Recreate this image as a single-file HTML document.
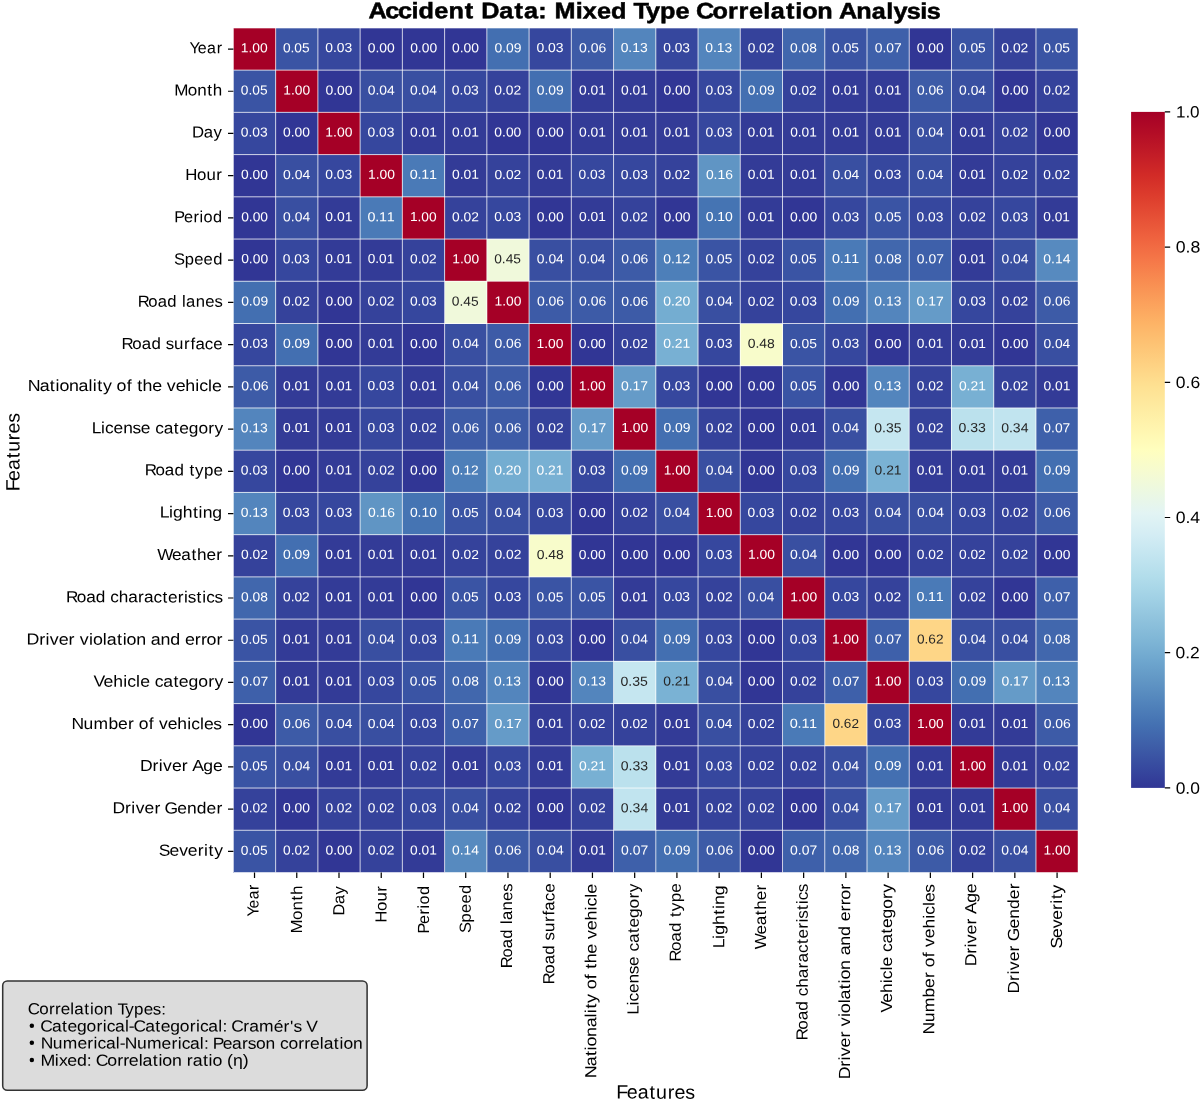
<!DOCTYPE html><html><head><meta charset="utf-8"><title>Accident Data: Mixed Type Correlation Analysis</title>
<style>html,body{margin:0;padding:0;background:#fff;overflow:hidden;}svg{display:block;will-change:transform;}text{font-family:"Liberation Sans",sans-serif;text-rendering:geometricPrecision;}</style></head><body>
<svg width="1200" height="1100" viewBox="0 0 1200 1100">
<rect width="1200" height="1100" fill="#ffffff"/>
<g shape-rendering="crispEdges">
<rect x="233.40" y="27.90" width="42.29" height="42.28" fill="#a50026"/>
<rect x="275.64" y="27.90" width="42.29" height="42.28" fill="#3a54a4"/>
<rect x="317.88" y="27.90" width="42.29" height="42.28" fill="#36479e"/>
<rect x="360.12" y="27.90" width="42.29" height="42.28" fill="#313695"/>
<rect x="402.36" y="27.90" width="42.29" height="42.28" fill="#313695"/>
<rect x="444.60" y="27.90" width="42.29" height="42.28" fill="#313695"/>
<rect x="486.84" y="27.90" width="42.29" height="42.28" fill="#436fb1"/>
<rect x="529.08" y="27.90" width="42.29" height="42.28" fill="#36479e"/>
<rect x="571.32" y="27.90" width="42.29" height="42.28" fill="#3d5ba7"/>
<rect x="613.56" y="27.90" width="42.29" height="42.28" fill="#5385bd"/>
<rect x="655.80" y="27.90" width="42.29" height="42.28" fill="#36479e"/>
<rect x="698.04" y="27.90" width="42.29" height="42.28" fill="#5385bd"/>
<rect x="740.28" y="27.90" width="42.29" height="42.28" fill="#35429b"/>
<rect x="782.52" y="27.90" width="42.29" height="42.28" fill="#4167ad"/>
<rect x="824.76" y="27.90" width="42.29" height="42.28" fill="#3a54a4"/>
<rect x="867.00" y="27.90" width="42.29" height="42.28" fill="#3e60aa"/>
<rect x="909.24" y="27.90" width="42.29" height="42.28" fill="#313695"/>
<rect x="951.48" y="27.90" width="42.29" height="42.28" fill="#3a54a4"/>
<rect x="993.72" y="27.90" width="42.29" height="42.28" fill="#35429b"/>
<rect x="1035.96" y="27.90" width="42.29" height="42.28" fill="#3a54a4"/>
<rect x="233.40" y="70.13" width="42.29" height="42.28" fill="#3a54a4"/>
<rect x="275.64" y="70.13" width="42.29" height="42.28" fill="#a50026"/>
<rect x="317.88" y="70.13" width="42.29" height="42.28" fill="#313695"/>
<rect x="360.12" y="70.13" width="42.29" height="42.28" fill="#394fa1"/>
<rect x="402.36" y="70.13" width="42.29" height="42.28" fill="#394fa1"/>
<rect x="444.60" y="70.13" width="42.29" height="42.28" fill="#36479e"/>
<rect x="486.84" y="70.13" width="42.29" height="42.28" fill="#35429b"/>
<rect x="529.08" y="70.13" width="42.29" height="42.28" fill="#436fb1"/>
<rect x="571.32" y="70.13" width="42.29" height="42.28" fill="#333b97"/>
<rect x="613.56" y="70.13" width="42.29" height="42.28" fill="#333b97"/>
<rect x="655.80" y="70.13" width="42.29" height="42.28" fill="#313695"/>
<rect x="698.04" y="70.13" width="42.29" height="42.28" fill="#36479e"/>
<rect x="740.28" y="70.13" width="42.29" height="42.28" fill="#436fb1"/>
<rect x="782.52" y="70.13" width="42.29" height="42.28" fill="#35429b"/>
<rect x="824.76" y="70.13" width="42.29" height="42.28" fill="#333b97"/>
<rect x="867.00" y="70.13" width="42.29" height="42.28" fill="#333b97"/>
<rect x="909.24" y="70.13" width="42.29" height="42.28" fill="#3d5ba7"/>
<rect x="951.48" y="70.13" width="42.29" height="42.28" fill="#394fa1"/>
<rect x="993.72" y="70.13" width="42.29" height="42.28" fill="#313695"/>
<rect x="1035.96" y="70.13" width="42.29" height="42.28" fill="#35429b"/>
<rect x="233.40" y="112.36" width="42.29" height="42.28" fill="#36479e"/>
<rect x="275.64" y="112.36" width="42.29" height="42.28" fill="#313695"/>
<rect x="317.88" y="112.36" width="42.29" height="42.28" fill="#a50026"/>
<rect x="360.12" y="112.36" width="42.29" height="42.28" fill="#36479e"/>
<rect x="402.36" y="112.36" width="42.29" height="42.28" fill="#333b97"/>
<rect x="444.60" y="112.36" width="42.29" height="42.28" fill="#333b97"/>
<rect x="486.84" y="112.36" width="42.29" height="42.28" fill="#313695"/>
<rect x="529.08" y="112.36" width="42.29" height="42.28" fill="#313695"/>
<rect x="571.32" y="112.36" width="42.29" height="42.28" fill="#333b97"/>
<rect x="613.56" y="112.36" width="42.29" height="42.28" fill="#333b97"/>
<rect x="655.80" y="112.36" width="42.29" height="42.28" fill="#333b97"/>
<rect x="698.04" y="112.36" width="42.29" height="42.28" fill="#36479e"/>
<rect x="740.28" y="112.36" width="42.29" height="42.28" fill="#333b97"/>
<rect x="782.52" y="112.36" width="42.29" height="42.28" fill="#333b97"/>
<rect x="824.76" y="112.36" width="42.29" height="42.28" fill="#333b97"/>
<rect x="867.00" y="112.36" width="42.29" height="42.28" fill="#333b97"/>
<rect x="909.24" y="112.36" width="42.29" height="42.28" fill="#394fa1"/>
<rect x="951.48" y="112.36" width="42.29" height="42.28" fill="#333b97"/>
<rect x="993.72" y="112.36" width="42.29" height="42.28" fill="#35429b"/>
<rect x="1035.96" y="112.36" width="42.29" height="42.28" fill="#313695"/>
<rect x="233.40" y="154.59" width="42.29" height="42.28" fill="#313695"/>
<rect x="275.64" y="154.59" width="42.29" height="42.28" fill="#394fa1"/>
<rect x="317.88" y="154.59" width="42.29" height="42.28" fill="#36479e"/>
<rect x="360.12" y="154.59" width="42.29" height="42.28" fill="#a50026"/>
<rect x="402.36" y="154.59" width="42.29" height="42.28" fill="#4a7ab7"/>
<rect x="444.60" y="154.59" width="42.29" height="42.28" fill="#333b97"/>
<rect x="486.84" y="154.59" width="42.29" height="42.28" fill="#35429b"/>
<rect x="529.08" y="154.59" width="42.29" height="42.28" fill="#333b97"/>
<rect x="571.32" y="154.59" width="42.29" height="42.28" fill="#36479e"/>
<rect x="613.56" y="154.59" width="42.29" height="42.28" fill="#36479e"/>
<rect x="655.80" y="154.59" width="42.29" height="42.28" fill="#35429b"/>
<rect x="698.04" y="154.59" width="42.29" height="42.28" fill="#6095c4"/>
<rect x="740.28" y="154.59" width="42.29" height="42.28" fill="#333b97"/>
<rect x="782.52" y="154.59" width="42.29" height="42.28" fill="#333b97"/>
<rect x="824.76" y="154.59" width="42.29" height="42.28" fill="#394fa1"/>
<rect x="867.00" y="154.59" width="42.29" height="42.28" fill="#36479e"/>
<rect x="909.24" y="154.59" width="42.29" height="42.28" fill="#394fa1"/>
<rect x="951.48" y="154.59" width="42.29" height="42.28" fill="#333b97"/>
<rect x="993.72" y="154.59" width="42.29" height="42.28" fill="#35429b"/>
<rect x="1035.96" y="154.59" width="42.29" height="42.28" fill="#35429b"/>
<rect x="233.40" y="196.82" width="42.29" height="42.28" fill="#313695"/>
<rect x="275.64" y="196.82" width="42.29" height="42.28" fill="#394fa1"/>
<rect x="317.88" y="196.82" width="42.29" height="42.28" fill="#333b97"/>
<rect x="360.12" y="196.82" width="42.29" height="42.28" fill="#4a7ab7"/>
<rect x="402.36" y="196.82" width="42.29" height="42.28" fill="#a50026"/>
<rect x="444.60" y="196.82" width="42.29" height="42.28" fill="#35429b"/>
<rect x="486.84" y="196.82" width="42.29" height="42.28" fill="#36479e"/>
<rect x="529.08" y="196.82" width="42.29" height="42.28" fill="#313695"/>
<rect x="571.32" y="196.82" width="42.29" height="42.28" fill="#333b97"/>
<rect x="613.56" y="196.82" width="42.29" height="42.28" fill="#35429b"/>
<rect x="655.80" y="196.82" width="42.29" height="42.28" fill="#313695"/>
<rect x="698.04" y="196.82" width="42.29" height="42.28" fill="#4574b3"/>
<rect x="740.28" y="196.82" width="42.29" height="42.28" fill="#333b97"/>
<rect x="782.52" y="196.82" width="42.29" height="42.28" fill="#313695"/>
<rect x="824.76" y="196.82" width="42.29" height="42.28" fill="#36479e"/>
<rect x="867.00" y="196.82" width="42.29" height="42.28" fill="#3a54a4"/>
<rect x="909.24" y="196.82" width="42.29" height="42.28" fill="#36479e"/>
<rect x="951.48" y="196.82" width="42.29" height="42.28" fill="#35429b"/>
<rect x="993.72" y="196.82" width="42.29" height="42.28" fill="#36479e"/>
<rect x="1035.96" y="196.82" width="42.29" height="42.28" fill="#333b97"/>
<rect x="233.40" y="239.05" width="42.29" height="42.28" fill="#313695"/>
<rect x="275.64" y="239.05" width="42.29" height="42.28" fill="#36479e"/>
<rect x="317.88" y="239.05" width="42.29" height="42.28" fill="#333b97"/>
<rect x="360.12" y="239.05" width="42.29" height="42.28" fill="#333b97"/>
<rect x="402.36" y="239.05" width="42.29" height="42.28" fill="#35429b"/>
<rect x="444.60" y="239.05" width="42.29" height="42.28" fill="#a50026"/>
<rect x="486.84" y="239.05" width="42.29" height="42.28" fill="#f0f9db"/>
<rect x="529.08" y="239.05" width="42.29" height="42.28" fill="#394fa1"/>
<rect x="571.32" y="239.05" width="42.29" height="42.28" fill="#394fa1"/>
<rect x="613.56" y="239.05" width="42.29" height="42.28" fill="#3d5ba7"/>
<rect x="655.80" y="239.05" width="42.29" height="42.28" fill="#4d7fb9"/>
<rect x="698.04" y="239.05" width="42.29" height="42.28" fill="#3a54a4"/>
<rect x="740.28" y="239.05" width="42.29" height="42.28" fill="#35429b"/>
<rect x="782.52" y="239.05" width="42.29" height="42.28" fill="#3a54a4"/>
<rect x="824.76" y="239.05" width="42.29" height="42.28" fill="#4a7ab7"/>
<rect x="867.00" y="239.05" width="42.29" height="42.28" fill="#4167ad"/>
<rect x="909.24" y="239.05" width="42.29" height="42.28" fill="#3e60aa"/>
<rect x="951.48" y="239.05" width="42.29" height="42.28" fill="#333b97"/>
<rect x="993.72" y="239.05" width="42.29" height="42.28" fill="#394fa1"/>
<rect x="1035.96" y="239.05" width="42.29" height="42.28" fill="#578abf"/>
<rect x="233.40" y="281.28" width="42.29" height="42.28" fill="#436fb1"/>
<rect x="275.64" y="281.28" width="42.29" height="42.28" fill="#35429b"/>
<rect x="317.88" y="281.28" width="42.29" height="42.28" fill="#313695"/>
<rect x="360.12" y="281.28" width="42.29" height="42.28" fill="#35429b"/>
<rect x="402.36" y="281.28" width="42.29" height="42.28" fill="#36479e"/>
<rect x="444.60" y="281.28" width="42.29" height="42.28" fill="#f0f9db"/>
<rect x="486.84" y="281.28" width="42.29" height="42.28" fill="#a50026"/>
<rect x="529.08" y="281.28" width="42.29" height="42.28" fill="#3d5ba7"/>
<rect x="571.32" y="281.28" width="42.29" height="42.28" fill="#3d5ba7"/>
<rect x="613.56" y="281.28" width="42.29" height="42.28" fill="#3d5ba7"/>
<rect x="655.80" y="281.28" width="42.29" height="42.28" fill="#74add1"/>
<rect x="698.04" y="281.28" width="42.29" height="42.28" fill="#394fa1"/>
<rect x="740.28" y="281.28" width="42.29" height="42.28" fill="#35429b"/>
<rect x="782.52" y="281.28" width="42.29" height="42.28" fill="#36479e"/>
<rect x="824.76" y="281.28" width="42.29" height="42.28" fill="#436fb1"/>
<rect x="867.00" y="281.28" width="42.29" height="42.28" fill="#5385bd"/>
<rect x="909.24" y="281.28" width="42.29" height="42.28" fill="#659bc8"/>
<rect x="951.48" y="281.28" width="42.29" height="42.28" fill="#36479e"/>
<rect x="993.72" y="281.28" width="42.29" height="42.28" fill="#35429b"/>
<rect x="1035.96" y="281.28" width="42.29" height="42.28" fill="#3d5ba7"/>
<rect x="233.40" y="323.51" width="42.29" height="42.28" fill="#36479e"/>
<rect x="275.64" y="323.51" width="42.29" height="42.28" fill="#436fb1"/>
<rect x="317.88" y="323.51" width="42.29" height="42.28" fill="#313695"/>
<rect x="360.12" y="323.51" width="42.29" height="42.28" fill="#333b97"/>
<rect x="402.36" y="323.51" width="42.29" height="42.28" fill="#313695"/>
<rect x="444.60" y="323.51" width="42.29" height="42.28" fill="#394fa1"/>
<rect x="486.84" y="323.51" width="42.29" height="42.28" fill="#3d5ba7"/>
<rect x="529.08" y="323.51" width="42.29" height="42.28" fill="#a50026"/>
<rect x="571.32" y="323.51" width="42.29" height="42.28" fill="#313695"/>
<rect x="613.56" y="323.51" width="42.29" height="42.28" fill="#35429b"/>
<rect x="655.80" y="323.51" width="42.29" height="42.28" fill="#78b0d3"/>
<rect x="698.04" y="323.51" width="42.29" height="42.28" fill="#36479e"/>
<rect x="740.28" y="323.51" width="42.29" height="42.28" fill="#f8fccb"/>
<rect x="782.52" y="323.51" width="42.29" height="42.28" fill="#3a54a4"/>
<rect x="824.76" y="323.51" width="42.29" height="42.28" fill="#36479e"/>
<rect x="867.00" y="323.51" width="42.29" height="42.28" fill="#313695"/>
<rect x="909.24" y="323.51" width="42.29" height="42.28" fill="#333b97"/>
<rect x="951.48" y="323.51" width="42.29" height="42.28" fill="#333b97"/>
<rect x="993.72" y="323.51" width="42.29" height="42.28" fill="#313695"/>
<rect x="1035.96" y="323.51" width="42.29" height="42.28" fill="#394fa1"/>
<rect x="233.40" y="365.74" width="42.29" height="42.28" fill="#3d5ba7"/>
<rect x="275.64" y="365.74" width="42.29" height="42.28" fill="#333b97"/>
<rect x="317.88" y="365.74" width="42.29" height="42.28" fill="#333b97"/>
<rect x="360.12" y="365.74" width="42.29" height="42.28" fill="#36479e"/>
<rect x="402.36" y="365.74" width="42.29" height="42.28" fill="#333b97"/>
<rect x="444.60" y="365.74" width="42.29" height="42.28" fill="#394fa1"/>
<rect x="486.84" y="365.74" width="42.29" height="42.28" fill="#3d5ba7"/>
<rect x="529.08" y="365.74" width="42.29" height="42.28" fill="#313695"/>
<rect x="571.32" y="365.74" width="42.29" height="42.28" fill="#a50026"/>
<rect x="613.56" y="365.74" width="42.29" height="42.28" fill="#659bc8"/>
<rect x="655.80" y="365.74" width="42.29" height="42.28" fill="#36479e"/>
<rect x="698.04" y="365.74" width="42.29" height="42.28" fill="#313695"/>
<rect x="740.28" y="365.74" width="42.29" height="42.28" fill="#313695"/>
<rect x="782.52" y="365.74" width="42.29" height="42.28" fill="#3a54a4"/>
<rect x="824.76" y="365.74" width="42.29" height="42.28" fill="#313695"/>
<rect x="867.00" y="365.74" width="42.29" height="42.28" fill="#5385bd"/>
<rect x="909.24" y="365.74" width="42.29" height="42.28" fill="#35429b"/>
<rect x="951.48" y="365.74" width="42.29" height="42.28" fill="#78b0d3"/>
<rect x="993.72" y="365.74" width="42.29" height="42.28" fill="#35429b"/>
<rect x="1035.96" y="365.74" width="42.29" height="42.28" fill="#333b97"/>
<rect x="233.40" y="407.97" width="42.29" height="42.28" fill="#5385bd"/>
<rect x="275.64" y="407.97" width="42.29" height="42.28" fill="#333b97"/>
<rect x="317.88" y="407.97" width="42.29" height="42.28" fill="#333b97"/>
<rect x="360.12" y="407.97" width="42.29" height="42.28" fill="#36479e"/>
<rect x="402.36" y="407.97" width="42.29" height="42.28" fill="#35429b"/>
<rect x="444.60" y="407.97" width="42.29" height="42.28" fill="#3d5ba7"/>
<rect x="486.84" y="407.97" width="42.29" height="42.28" fill="#3d5ba7"/>
<rect x="529.08" y="407.97" width="42.29" height="42.28" fill="#35429b"/>
<rect x="571.32" y="407.97" width="42.29" height="42.28" fill="#659bc8"/>
<rect x="613.56" y="407.97" width="42.29" height="42.28" fill="#a50026"/>
<rect x="655.80" y="407.97" width="42.29" height="42.28" fill="#436fb1"/>
<rect x="698.04" y="407.97" width="42.29" height="42.28" fill="#35429b"/>
<rect x="740.28" y="407.97" width="42.29" height="42.28" fill="#313695"/>
<rect x="782.52" y="407.97" width="42.29" height="42.28" fill="#333b97"/>
<rect x="824.76" y="407.97" width="42.29" height="42.28" fill="#394fa1"/>
<rect x="867.00" y="407.97" width="42.29" height="42.28" fill="#c5e6f0"/>
<rect x="909.24" y="407.97" width="42.29" height="42.28" fill="#35429b"/>
<rect x="951.48" y="407.97" width="42.29" height="42.28" fill="#bbe1ed"/>
<rect x="993.72" y="407.97" width="42.29" height="42.28" fill="#c1e4ef"/>
<rect x="1035.96" y="407.97" width="42.29" height="42.28" fill="#3e60aa"/>
<rect x="233.40" y="450.20" width="42.29" height="42.28" fill="#36479e"/>
<rect x="275.64" y="450.20" width="42.29" height="42.28" fill="#313695"/>
<rect x="317.88" y="450.20" width="42.29" height="42.28" fill="#333b97"/>
<rect x="360.12" y="450.20" width="42.29" height="42.28" fill="#35429b"/>
<rect x="402.36" y="450.20" width="42.29" height="42.28" fill="#313695"/>
<rect x="444.60" y="450.20" width="42.29" height="42.28" fill="#4d7fb9"/>
<rect x="486.84" y="450.20" width="42.29" height="42.28" fill="#74add1"/>
<rect x="529.08" y="450.20" width="42.29" height="42.28" fill="#78b0d3"/>
<rect x="571.32" y="450.20" width="42.29" height="42.28" fill="#36479e"/>
<rect x="613.56" y="450.20" width="42.29" height="42.28" fill="#436fb1"/>
<rect x="655.80" y="450.20" width="42.29" height="42.28" fill="#a50026"/>
<rect x="698.04" y="450.20" width="42.29" height="42.28" fill="#394fa1"/>
<rect x="740.28" y="450.20" width="42.29" height="42.28" fill="#313695"/>
<rect x="782.52" y="450.20" width="42.29" height="42.28" fill="#36479e"/>
<rect x="824.76" y="450.20" width="42.29" height="42.28" fill="#436fb1"/>
<rect x="867.00" y="450.20" width="42.29" height="42.28" fill="#7ab2d4"/>
<rect x="909.24" y="450.20" width="42.29" height="42.28" fill="#333b97"/>
<rect x="951.48" y="450.20" width="42.29" height="42.28" fill="#333b97"/>
<rect x="993.72" y="450.20" width="42.29" height="42.28" fill="#333b97"/>
<rect x="1035.96" y="450.20" width="42.29" height="42.28" fill="#436fb1"/>
<rect x="233.40" y="492.43" width="42.29" height="42.28" fill="#5385bd"/>
<rect x="275.64" y="492.43" width="42.29" height="42.28" fill="#36479e"/>
<rect x="317.88" y="492.43" width="42.29" height="42.28" fill="#36479e"/>
<rect x="360.12" y="492.43" width="42.29" height="42.28" fill="#6095c4"/>
<rect x="402.36" y="492.43" width="42.29" height="42.28" fill="#4574b3"/>
<rect x="444.60" y="492.43" width="42.29" height="42.28" fill="#3a54a4"/>
<rect x="486.84" y="492.43" width="42.29" height="42.28" fill="#394fa1"/>
<rect x="529.08" y="492.43" width="42.29" height="42.28" fill="#36479e"/>
<rect x="571.32" y="492.43" width="42.29" height="42.28" fill="#313695"/>
<rect x="613.56" y="492.43" width="42.29" height="42.28" fill="#35429b"/>
<rect x="655.80" y="492.43" width="42.29" height="42.28" fill="#394fa1"/>
<rect x="698.04" y="492.43" width="42.29" height="42.28" fill="#a50026"/>
<rect x="740.28" y="492.43" width="42.29" height="42.28" fill="#36479e"/>
<rect x="782.52" y="492.43" width="42.29" height="42.28" fill="#35429b"/>
<rect x="824.76" y="492.43" width="42.29" height="42.28" fill="#36479e"/>
<rect x="867.00" y="492.43" width="42.29" height="42.28" fill="#394fa1"/>
<rect x="909.24" y="492.43" width="42.29" height="42.28" fill="#394fa1"/>
<rect x="951.48" y="492.43" width="42.29" height="42.28" fill="#36479e"/>
<rect x="993.72" y="492.43" width="42.29" height="42.28" fill="#35429b"/>
<rect x="1035.96" y="492.43" width="42.29" height="42.28" fill="#3d5ba7"/>
<rect x="233.40" y="534.66" width="42.29" height="42.28" fill="#35429b"/>
<rect x="275.64" y="534.66" width="42.29" height="42.28" fill="#436fb1"/>
<rect x="317.88" y="534.66" width="42.29" height="42.28" fill="#333b97"/>
<rect x="360.12" y="534.66" width="42.29" height="42.28" fill="#333b97"/>
<rect x="402.36" y="534.66" width="42.29" height="42.28" fill="#333b97"/>
<rect x="444.60" y="534.66" width="42.29" height="42.28" fill="#35429b"/>
<rect x="486.84" y="534.66" width="42.29" height="42.28" fill="#35429b"/>
<rect x="529.08" y="534.66" width="42.29" height="42.28" fill="#f8fccb"/>
<rect x="571.32" y="534.66" width="42.29" height="42.28" fill="#313695"/>
<rect x="613.56" y="534.66" width="42.29" height="42.28" fill="#313695"/>
<rect x="655.80" y="534.66" width="42.29" height="42.28" fill="#313695"/>
<rect x="698.04" y="534.66" width="42.29" height="42.28" fill="#36479e"/>
<rect x="740.28" y="534.66" width="42.29" height="42.28" fill="#a50026"/>
<rect x="782.52" y="534.66" width="42.29" height="42.28" fill="#394fa1"/>
<rect x="824.76" y="534.66" width="42.29" height="42.28" fill="#313695"/>
<rect x="867.00" y="534.66" width="42.29" height="42.28" fill="#313695"/>
<rect x="909.24" y="534.66" width="42.29" height="42.28" fill="#35429b"/>
<rect x="951.48" y="534.66" width="42.29" height="42.28" fill="#35429b"/>
<rect x="993.72" y="534.66" width="42.29" height="42.28" fill="#35429b"/>
<rect x="1035.96" y="534.66" width="42.29" height="42.28" fill="#313695"/>
<rect x="233.40" y="576.89" width="42.29" height="42.28" fill="#4167ad"/>
<rect x="275.64" y="576.89" width="42.29" height="42.28" fill="#35429b"/>
<rect x="317.88" y="576.89" width="42.29" height="42.28" fill="#333b97"/>
<rect x="360.12" y="576.89" width="42.29" height="42.28" fill="#333b97"/>
<rect x="402.36" y="576.89" width="42.29" height="42.28" fill="#313695"/>
<rect x="444.60" y="576.89" width="42.29" height="42.28" fill="#3a54a4"/>
<rect x="486.84" y="576.89" width="42.29" height="42.28" fill="#36479e"/>
<rect x="529.08" y="576.89" width="42.29" height="42.28" fill="#3a54a4"/>
<rect x="571.32" y="576.89" width="42.29" height="42.28" fill="#3a54a4"/>
<rect x="613.56" y="576.89" width="42.29" height="42.28" fill="#333b97"/>
<rect x="655.80" y="576.89" width="42.29" height="42.28" fill="#36479e"/>
<rect x="698.04" y="576.89" width="42.29" height="42.28" fill="#35429b"/>
<rect x="740.28" y="576.89" width="42.29" height="42.28" fill="#394fa1"/>
<rect x="782.52" y="576.89" width="42.29" height="42.28" fill="#a50026"/>
<rect x="824.76" y="576.89" width="42.29" height="42.28" fill="#36479e"/>
<rect x="867.00" y="576.89" width="42.29" height="42.28" fill="#35429b"/>
<rect x="909.24" y="576.89" width="42.29" height="42.28" fill="#4a7ab7"/>
<rect x="951.48" y="576.89" width="42.29" height="42.28" fill="#35429b"/>
<rect x="993.72" y="576.89" width="42.29" height="42.28" fill="#313695"/>
<rect x="1035.96" y="576.89" width="42.29" height="42.28" fill="#3e60aa"/>
<rect x="233.40" y="619.12" width="42.29" height="42.28" fill="#3a54a4"/>
<rect x="275.64" y="619.12" width="42.29" height="42.28" fill="#333b97"/>
<rect x="317.88" y="619.12" width="42.29" height="42.28" fill="#333b97"/>
<rect x="360.12" y="619.12" width="42.29" height="42.28" fill="#394fa1"/>
<rect x="402.36" y="619.12" width="42.29" height="42.28" fill="#36479e"/>
<rect x="444.60" y="619.12" width="42.29" height="42.28" fill="#4a7ab7"/>
<rect x="486.84" y="619.12" width="42.29" height="42.28" fill="#436fb1"/>
<rect x="529.08" y="619.12" width="42.29" height="42.28" fill="#36479e"/>
<rect x="571.32" y="619.12" width="42.29" height="42.28" fill="#313695"/>
<rect x="613.56" y="619.12" width="42.29" height="42.28" fill="#394fa1"/>
<rect x="655.80" y="619.12" width="42.29" height="42.28" fill="#436fb1"/>
<rect x="698.04" y="619.12" width="42.29" height="42.28" fill="#36479e"/>
<rect x="740.28" y="619.12" width="42.29" height="42.28" fill="#313695"/>
<rect x="782.52" y="619.12" width="42.29" height="42.28" fill="#36479e"/>
<rect x="824.76" y="619.12" width="42.29" height="42.28" fill="#a50026"/>
<rect x="867.00" y="619.12" width="42.29" height="42.28" fill="#3e60aa"/>
<rect x="909.24" y="619.12" width="42.29" height="42.28" fill="#fed687"/>
<rect x="951.48" y="619.12" width="42.29" height="42.28" fill="#394fa1"/>
<rect x="993.72" y="619.12" width="42.29" height="42.28" fill="#394fa1"/>
<rect x="1035.96" y="619.12" width="42.29" height="42.28" fill="#4167ad"/>
<rect x="233.40" y="661.35" width="42.29" height="42.28" fill="#3e60aa"/>
<rect x="275.64" y="661.35" width="42.29" height="42.28" fill="#333b97"/>
<rect x="317.88" y="661.35" width="42.29" height="42.28" fill="#333b97"/>
<rect x="360.12" y="661.35" width="42.29" height="42.28" fill="#36479e"/>
<rect x="402.36" y="661.35" width="42.29" height="42.28" fill="#3a54a4"/>
<rect x="444.60" y="661.35" width="42.29" height="42.28" fill="#4167ad"/>
<rect x="486.84" y="661.35" width="42.29" height="42.28" fill="#5385bd"/>
<rect x="529.08" y="661.35" width="42.29" height="42.28" fill="#313695"/>
<rect x="571.32" y="661.35" width="42.29" height="42.28" fill="#5385bd"/>
<rect x="613.56" y="661.35" width="42.29" height="42.28" fill="#c5e6f0"/>
<rect x="655.80" y="661.35" width="42.29" height="42.28" fill="#7ab2d4"/>
<rect x="698.04" y="661.35" width="42.29" height="42.28" fill="#394fa1"/>
<rect x="740.28" y="661.35" width="42.29" height="42.28" fill="#313695"/>
<rect x="782.52" y="661.35" width="42.29" height="42.28" fill="#35429b"/>
<rect x="824.76" y="661.35" width="42.29" height="42.28" fill="#3e60aa"/>
<rect x="867.00" y="661.35" width="42.29" height="42.28" fill="#a50026"/>
<rect x="909.24" y="661.35" width="42.29" height="42.28" fill="#36479e"/>
<rect x="951.48" y="661.35" width="42.29" height="42.28" fill="#436fb1"/>
<rect x="993.72" y="661.35" width="42.29" height="42.28" fill="#659bc8"/>
<rect x="1035.96" y="661.35" width="42.29" height="42.28" fill="#5385bd"/>
<rect x="233.40" y="703.58" width="42.29" height="42.28" fill="#313695"/>
<rect x="275.64" y="703.58" width="42.29" height="42.28" fill="#3d5ba7"/>
<rect x="317.88" y="703.58" width="42.29" height="42.28" fill="#394fa1"/>
<rect x="360.12" y="703.58" width="42.29" height="42.28" fill="#394fa1"/>
<rect x="402.36" y="703.58" width="42.29" height="42.28" fill="#36479e"/>
<rect x="444.60" y="703.58" width="42.29" height="42.28" fill="#3e60aa"/>
<rect x="486.84" y="703.58" width="42.29" height="42.28" fill="#659bc8"/>
<rect x="529.08" y="703.58" width="42.29" height="42.28" fill="#333b97"/>
<rect x="571.32" y="703.58" width="42.29" height="42.28" fill="#35429b"/>
<rect x="613.56" y="703.58" width="42.29" height="42.28" fill="#35429b"/>
<rect x="655.80" y="703.58" width="42.29" height="42.28" fill="#333b97"/>
<rect x="698.04" y="703.58" width="42.29" height="42.28" fill="#394fa1"/>
<rect x="740.28" y="703.58" width="42.29" height="42.28" fill="#35429b"/>
<rect x="782.52" y="703.58" width="42.29" height="42.28" fill="#4a7ab7"/>
<rect x="824.76" y="703.58" width="42.29" height="42.28" fill="#fed687"/>
<rect x="867.00" y="703.58" width="42.29" height="42.28" fill="#36479e"/>
<rect x="909.24" y="703.58" width="42.29" height="42.28" fill="#a50026"/>
<rect x="951.48" y="703.58" width="42.29" height="42.28" fill="#333b97"/>
<rect x="993.72" y="703.58" width="42.29" height="42.28" fill="#333b97"/>
<rect x="1035.96" y="703.58" width="42.29" height="42.28" fill="#3d5ba7"/>
<rect x="233.40" y="745.81" width="42.29" height="42.28" fill="#3a54a4"/>
<rect x="275.64" y="745.81" width="42.29" height="42.28" fill="#394fa1"/>
<rect x="317.88" y="745.81" width="42.29" height="42.28" fill="#333b97"/>
<rect x="360.12" y="745.81" width="42.29" height="42.28" fill="#333b97"/>
<rect x="402.36" y="745.81" width="42.29" height="42.28" fill="#35429b"/>
<rect x="444.60" y="745.81" width="42.29" height="42.28" fill="#333b97"/>
<rect x="486.84" y="745.81" width="42.29" height="42.28" fill="#36479e"/>
<rect x="529.08" y="745.81" width="42.29" height="42.28" fill="#333b97"/>
<rect x="571.32" y="745.81" width="42.29" height="42.28" fill="#78b0d3"/>
<rect x="613.56" y="745.81" width="42.29" height="42.28" fill="#bbe1ed"/>
<rect x="655.80" y="745.81" width="42.29" height="42.28" fill="#333b97"/>
<rect x="698.04" y="745.81" width="42.29" height="42.28" fill="#36479e"/>
<rect x="740.28" y="745.81" width="42.29" height="42.28" fill="#35429b"/>
<rect x="782.52" y="745.81" width="42.29" height="42.28" fill="#35429b"/>
<rect x="824.76" y="745.81" width="42.29" height="42.28" fill="#394fa1"/>
<rect x="867.00" y="745.81" width="42.29" height="42.28" fill="#436fb1"/>
<rect x="909.24" y="745.81" width="42.29" height="42.28" fill="#333b97"/>
<rect x="951.48" y="745.81" width="42.29" height="42.28" fill="#a50026"/>
<rect x="993.72" y="745.81" width="42.29" height="42.28" fill="#333b97"/>
<rect x="1035.96" y="745.81" width="42.29" height="42.28" fill="#35429b"/>
<rect x="233.40" y="788.04" width="42.29" height="42.28" fill="#35429b"/>
<rect x="275.64" y="788.04" width="42.29" height="42.28" fill="#313695"/>
<rect x="317.88" y="788.04" width="42.29" height="42.28" fill="#35429b"/>
<rect x="360.12" y="788.04" width="42.29" height="42.28" fill="#35429b"/>
<rect x="402.36" y="788.04" width="42.29" height="42.28" fill="#36479e"/>
<rect x="444.60" y="788.04" width="42.29" height="42.28" fill="#394fa1"/>
<rect x="486.84" y="788.04" width="42.29" height="42.28" fill="#35429b"/>
<rect x="529.08" y="788.04" width="42.29" height="42.28" fill="#313695"/>
<rect x="571.32" y="788.04" width="42.29" height="42.28" fill="#35429b"/>
<rect x="613.56" y="788.04" width="42.29" height="42.28" fill="#c1e4ef"/>
<rect x="655.80" y="788.04" width="42.29" height="42.28" fill="#333b97"/>
<rect x="698.04" y="788.04" width="42.29" height="42.28" fill="#35429b"/>
<rect x="740.28" y="788.04" width="42.29" height="42.28" fill="#35429b"/>
<rect x="782.52" y="788.04" width="42.29" height="42.28" fill="#313695"/>
<rect x="824.76" y="788.04" width="42.29" height="42.28" fill="#394fa1"/>
<rect x="867.00" y="788.04" width="42.29" height="42.28" fill="#659bc8"/>
<rect x="909.24" y="788.04" width="42.29" height="42.28" fill="#333b97"/>
<rect x="951.48" y="788.04" width="42.29" height="42.28" fill="#333b97"/>
<rect x="993.72" y="788.04" width="42.29" height="42.28" fill="#a50026"/>
<rect x="1035.96" y="788.04" width="42.29" height="42.28" fill="#394fa1"/>
<rect x="233.40" y="830.27" width="42.29" height="42.28" fill="#3a54a4"/>
<rect x="275.64" y="830.27" width="42.29" height="42.28" fill="#35429b"/>
<rect x="317.88" y="830.27" width="42.29" height="42.28" fill="#313695"/>
<rect x="360.12" y="830.27" width="42.29" height="42.28" fill="#35429b"/>
<rect x="402.36" y="830.27" width="42.29" height="42.28" fill="#333b97"/>
<rect x="444.60" y="830.27" width="42.29" height="42.28" fill="#578abf"/>
<rect x="486.84" y="830.27" width="42.29" height="42.28" fill="#3d5ba7"/>
<rect x="529.08" y="830.27" width="42.29" height="42.28" fill="#394fa1"/>
<rect x="571.32" y="830.27" width="42.29" height="42.28" fill="#333b97"/>
<rect x="613.56" y="830.27" width="42.29" height="42.28" fill="#3e60aa"/>
<rect x="655.80" y="830.27" width="42.29" height="42.28" fill="#436fb1"/>
<rect x="698.04" y="830.27" width="42.29" height="42.28" fill="#3d5ba7"/>
<rect x="740.28" y="830.27" width="42.29" height="42.28" fill="#313695"/>
<rect x="782.52" y="830.27" width="42.29" height="42.28" fill="#3e60aa"/>
<rect x="824.76" y="830.27" width="42.29" height="42.28" fill="#4167ad"/>
<rect x="867.00" y="830.27" width="42.29" height="42.28" fill="#5385bd"/>
<rect x="909.24" y="830.27" width="42.29" height="42.28" fill="#3d5ba7"/>
<rect x="951.48" y="830.27" width="42.29" height="42.28" fill="#35429b"/>
<rect x="993.72" y="830.27" width="42.29" height="42.28" fill="#394fa1"/>
<rect x="1035.96" y="830.27" width="42.29" height="42.28" fill="#a50026"/>
</g>
<path d="M233.40 27.90V872.50M233.40 27.90H1078.20M275.64 27.90V872.50M233.40 70.13H1078.20M317.88 27.90V872.50M233.40 112.36H1078.20M360.12 27.90V872.50M233.40 154.59H1078.20M402.36 27.90V872.50M233.40 196.82H1078.20M444.60 27.90V872.50M233.40 239.05H1078.20M486.84 27.90V872.50M233.40 281.28H1078.20M529.08 27.90V872.50M233.40 323.51H1078.20M571.32 27.90V872.50M233.40 365.74H1078.20M613.56 27.90V872.50M233.40 407.97H1078.20M655.80 27.90V872.50M233.40 450.20H1078.20M698.04 27.90V872.50M233.40 492.43H1078.20M740.28 27.90V872.50M233.40 534.66H1078.20M782.52 27.90V872.50M233.40 576.89H1078.20M824.76 27.90V872.50M233.40 619.12H1078.20M867.00 27.90V872.50M233.40 661.35H1078.20M909.24 27.90V872.50M233.40 703.58H1078.20M951.48 27.90V872.50M233.40 745.81H1078.20M993.72 27.90V872.50M233.40 788.04H1078.20M1035.96 27.90V872.50M233.40 830.27H1078.20M1078.20 27.90V872.50M233.40 872.50H1078.20" stroke="#ffffff" stroke-width="0.77" fill="none"/>
<path d="M228.01 49.02H233.40M254.52 872.50V877.89M228.01 91.25H233.40M296.76 872.50V877.89M228.01 133.48H233.40M339.00 872.50V877.89M228.01 175.71H233.40M381.24 872.50V877.89M228.01 217.94H233.40M423.48 872.50V877.89M228.01 260.17H233.40M465.72 872.50V877.89M228.01 302.39H233.40M507.96 872.50V877.89M228.01 344.62H233.40M550.20 872.50V877.89M228.01 386.86H233.40M592.44 872.50V877.89M228.01 429.09H233.40M634.68 872.50V877.89M228.01 471.31H233.40M676.92 872.50V877.89M228.01 513.55H233.40M719.16 872.50V877.89M228.01 555.77H233.40M761.40 872.50V877.89M228.01 598.00H233.40M803.64 872.50V877.89M228.01 640.24H233.40M845.88 872.50V877.89M228.01 682.47H233.40M888.12 872.50V877.89M228.01 724.70H233.40M930.36 872.50V877.89M228.01 766.93H233.40M972.60 872.50V877.89M228.01 809.16H233.40M1014.84 872.50V877.89M228.01 851.39H233.40M1057.08 872.50V877.89" stroke="#000" stroke-width="1.23" fill="none"/>
<defs><linearGradient id="cb" x1="0" y1="1" x2="0" y2="0">
<stop offset="0.0000" stop-color="#313695"/>
<stop offset="0.0312" stop-color="#374a9f"/>
<stop offset="0.0625" stop-color="#3e5ea8"/>
<stop offset="0.0938" stop-color="#4471b2"/>
<stop offset="0.1250" stop-color="#5183bb"/>
<stop offset="0.1562" stop-color="#6095c4"/>
<stop offset="0.1875" stop-color="#6ea6ce"/>
<stop offset="0.2188" stop-color="#7fb6d6"/>
<stop offset="0.2500" stop-color="#90c3dd"/>
<stop offset="0.2812" stop-color="#a1d1e5"/>
<stop offset="0.3125" stop-color="#b2ddeb"/>
<stop offset="0.3438" stop-color="#c3e5f0"/>
<stop offset="0.3750" stop-color="#d4edf4"/>
<stop offset="0.4062" stop-color="#e2f4f4"/>
<stop offset="0.4375" stop-color="#ecf8e2"/>
<stop offset="0.4688" stop-color="#f6fbd0"/>
<stop offset="0.5000" stop-color="#fffebe"/>
<stop offset="0.5312" stop-color="#fff5af"/>
<stop offset="0.5625" stop-color="#feeba1"/>
<stop offset="0.5938" stop-color="#fee192"/>
<stop offset="0.6250" stop-color="#fed283"/>
<stop offset="0.6562" stop-color="#fdc374"/>
<stop offset="0.6875" stop-color="#fdb366"/>
<stop offset="0.7188" stop-color="#fba05b"/>
<stop offset="0.7500" stop-color="#f88c51"/>
<stop offset="0.7812" stop-color="#f57748"/>
<stop offset="0.8125" stop-color="#ef633f"/>
<stop offset="0.8438" stop-color="#e65036"/>
<stop offset="0.8750" stop-color="#dd3d2d"/>
<stop offset="0.9062" stop-color="#d22b27"/>
<stop offset="0.9375" stop-color="#c21c27"/>
<stop offset="0.9688" stop-color="#b30d26"/>
<stop offset="1.0000" stop-color="#a50026"/>
</linearGradient></defs>
<rect x="1131.1" y="111.9" width="33.70" height="676.00" fill="url(#cb)"/>
<path d="M1164.80 787.90H1170.19M1164.80 652.70H1170.19M1164.80 517.50H1170.19M1164.80 382.30H1170.19M1164.80 247.10H1170.19M1164.80 111.90H1170.19" stroke="#000" stroke-width="1.23" fill="none"/>
<rect x="2.7" y="980.9" width="364.4" height="109.4" rx="4.6" ry="4.6" fill="#dcdcdc" stroke="#333333" stroke-width="1.54"/>
<text transform="translate(189.91,53.33) rotate(0.05) scale(0.9924,1)" x="-0.38 7.88 17.31 26.98" font-size="16.09">Year</text>
<text transform="translate(174.41,95.38) rotate(0.05) scale(1.0601,1)" x="-0.16 12.59 21.48 31.03 36.11" font-size="16.09">Month</text>
<text transform="translate(192.20,137.59) rotate(0.05) scale(1.0434,1)" x="-0.17 11.18 20.37" font-size="16.09">Day</text>
<text transform="translate(185.54,180.01) rotate(0.05) scale(1.0456,1)" x="-0.21 11.00 20.02 29.39" font-size="16.09">Hour</text>
<text transform="translate(174.54,222.33) rotate(0.05) scale(1.0115,1)" x="-0.20 9.25 18.71 24.74 28.69 37.98" font-size="16.09">Period</text>
<text transform="translate(174.33,264.39) rotate(0.05) scale(1.0299,1)" x="-0.28 10.03 19.31 28.44 37.72" font-size="16.09">Speed</text>
<text transform="translate(138.04,306.74) rotate(0.05) scale(1.0351,1)" x="-0.39 9.98 19.05 28.31 37.62 42.49 46.40 55.65 64.92 73.80" font-size="16.09">Road lanes</text>
<text transform="translate(122.08,349.07) rotate(0.05) scale(1.0487,1)" x="-0.44 9.82 18.80 27.96 37.19 41.56 49.58 59.05 65.21 69.92 78.90 87.00" font-size="16.09">Road surface</text>
<text transform="translate(29.29,390.97) rotate(0.05) scale(1.1076,1)" x="-1.43 9.36 18.59 23.70 27.19 35.85 44.51 53.39 57.25 61.46 66.51 74.62 78.84 87.90 92.44 97.37 102.26 110.94 119.67 124.20 132.14 140.82 149.85 153.36 161.35 164.87" font-size="16.09">Nationality of the vehicle</text>
<text transform="translate(91.54,433.32) rotate(0.05) scale(1.0776,1)" x="0.20 8.86 12.54 20.42 29.35 38.06 45.73 54.64 59.06 66.92 76.34 81.31 90.25 99.16 108.28 114.10" font-size="16.09">License category</text>
<text transform="translate(144.62,475.35) rotate(0.05) scale(1.0543,1)" x="0.19 10.35 19.21 28.26 37.40 42.55 47.90 56.33 65.39" font-size="16.09">Road type</text>
<text transform="translate(160.33,517.60) rotate(0.05) scale(1.0965,1)" x="-0.62 7.90 11.57 20.42 29.81 34.93 38.60 47.45" font-size="16.09">Lighting</text>
<text transform="translate(157.75,559.90) rotate(0.05) scale(1.0691,1)" x="-0.55 13.26 22.08 31.55 36.69 45.66 54.84" font-size="16.09">Weather</text>
<text transform="translate(66.04,602.30) rotate(0.05) scale(1.0691,1)" x="-0.04 10.03 18.81 27.77 36.85 41.29 49.34 58.28 67.43 72.97 81.78 90.32 95.32 104.49 110.32 113.82 122.15 127.42 131.12 138.80" font-size="16.09">Road characteristics</text>
<text transform="translate(27.91,644.62) rotate(0.05) scale(1.1098,1)" x="-1.19 10.19 15.89 19.73 27.70 36.66 42.19 46.76 55.06 58.59 67.48 71.00 80.26 85.39 88.91 97.61 106.49 110.74 119.45 128.31 137.19 141.47 150.43 155.93 160.96 169.90" font-size="16.09">Driver violation and error</text>
<text transform="translate(94.54,686.62) rotate(0.05) scale(1.0961,1)" x="-0.86 8.16 17.03 26.19 29.83 37.95 41.60 50.47 54.85 62.64 72.02 76.94 85.82 94.67 103.74 109.51" font-size="16.09">Vehicle category</text>
<text transform="translate(73.20,729.03) rotate(0.05) scale(1.0870,1)" x="-1.60 9.55 18.73 32.39 41.26 50.35 55.96 60.33 69.53 74.17 78.84 86.96 95.83 104.99 108.63 116.74 120.39 128.91" font-size="16.09">Number of vehicles</text>
<text transform="translate(140.45,771.02) rotate(0.05) scale(1.0941,1)" x="-0.39 11.07 16.82 20.71 28.77 37.80 43.38 47.31 57.50 66.31" font-size="16.09">Driver Age</text>
<text transform="translate(113.45,813.34) rotate(0.05) scale(1.0851,1)" x="-0.88 10.68 16.49 20.46 28.62 37.75 43.39 47.16 58.87 67.79 76.84 85.76 94.89" font-size="16.09">Driver Gender</text>
<text transform="translate(158.95,855.68) rotate(0.05) scale(1.0878,1)" x="-0.09 9.60 18.55 26.59 35.61 41.35 45.61 50.76" font-size="16.09">Severity</text>
<text transform="translate(258.56,915.99) rotate(-89.95) scale(0.9720,1)" x="-0.58 7.68 17.11 26.78" font-size="16.09">Year</text>
<text transform="translate(302.11,931.49) rotate(-89.95) scale(1.0610,1)" x="-1.94 10.81 19.70 29.25 34.34" font-size="16.09">Month</text>
<text transform="translate(344.36,913.70) rotate(-89.95) scale(1.0197,1)" x="-1.71 9.64 18.83" font-size="16.09">Day</text>
<text transform="translate(386.58,920.36) rotate(-89.95) scale(1.0490,1)" x="-2.21 9.01 18.02 27.39" font-size="16.09">Hour</text>
<text transform="translate(429.09,931.36) rotate(-89.95) scale(1.0052,1)" x="-2.07 7.37 16.83 22.86 26.81 36.11" font-size="16.09">Period</text>
<text transform="translate(470.67,931.57) rotate(-89.95) scale(1.0277,1)" x="-1.39 8.92 18.20 27.33 36.61" font-size="16.09">Speed</text>
<text transform="translate(512.07,967.86) rotate(-89.95) scale(1.0303,1)" x="-0.40 9.96 19.04 28.30 37.60 42.47 46.38 55.64 64.90 73.78" font-size="16.09">Road lanes</text>
<text transform="translate(554.31,983.82) rotate(-89.95) scale(1.0494,1)" x="-0.65 9.61 18.59 27.75 36.97 41.34 49.36 58.83 65.00 69.70 78.69 86.78" font-size="16.09">Road surface</text>
<text transform="translate(596.27,1076.61) rotate(-89.95) scale(1.1090,1)" x="-1.48 9.30 18.53 23.64 27.14 35.79 44.45 53.33 57.20 61.40 66.45 74.56 78.79 87.85 92.38 97.31 102.21 110.89 119.61 124.15 132.08 140.77 149.79 153.31 161.30 164.81" font-size="16.09">Nationality of the vehicle</text>
<text transform="translate(638.58,1014.36) rotate(-89.95) scale(1.0757,1)" x="-0.46 8.20 11.88 19.76 28.69 37.40 45.07 53.98 58.40 66.25 75.68 80.65 89.59 98.50 107.62 113.44" font-size="16.09">License category</text>
<text transform="translate(680.73,961.28) rotate(-89.95) scale(1.0606,1)" x="-0.55 9.61 18.48 27.53 36.67 41.81 47.16 55.60 64.65" font-size="16.09">Road type</text>
<text transform="translate(724.19,945.57) rotate(-89.95) scale(1.1014,1)" x="-2.45 6.07 9.74 18.59 27.98 33.10 36.77 45.62" font-size="16.09">Lighting</text>
<text transform="translate(765.92,948.16) rotate(-89.95) scale(1.0603,1)" x="-0.93 12.87 21.70 31.16 36.30 45.28 54.46" font-size="16.09">Weather</text>
<text transform="translate(807.59,1039.86) rotate(-89.95) scale(1.0686,1)" x="-0.60 9.47 18.25 27.21 36.29 40.73 48.77 57.71 66.87 72.41 81.22 89.76 94.76 103.93 109.76 113.25 121.59 126.86 130.56 138.24" font-size="16.09">Road characteristics</text>
<text transform="translate(849.98,1077.99) rotate(-89.95) scale(1.1078,1)" x="-1.24 10.14 15.84 19.67 27.64 36.61 42.14 46.70 55.01 58.53 67.43 70.95 80.21 85.34 88.86 97.55 106.43 110.69 119.40 128.25 137.14 141.41 150.38 155.87 160.91 169.85" font-size="16.09">Driver violation and error</text>
<text transform="translate(892.04,1011.36) rotate(-89.95) scale(1.0850,1)" x="-1.06 7.95 16.83 25.99 29.63 37.75 41.40 50.27 54.64 62.44 71.82 76.74 85.62 94.47 103.54 109.31" font-size="16.09">Vehicle category</text>
<text transform="translate(934.29,1032.70) rotate(-89.95) scale(1.0858,1)" x="-1.57 9.58 18.76 32.42 41.29 50.38 55.99 60.36 69.56 74.20 78.87 86.99 95.86 105.02 108.66 116.77 120.42 128.94" font-size="16.09">Number of vehicles</text>
<text transform="translate(976.30,965.45) rotate(-89.95) scale(1.0970,1)" x="-0.84 10.62 16.36 20.26 28.31 37.35 42.93 46.86 57.05 65.86" font-size="16.09">Driver Age</text>
<text transform="translate(1019.04,992.45) rotate(-89.95) scale(1.0886,1)" x="-0.95 10.62 16.42 20.39 28.55 37.68 43.32 47.10 58.80 67.72 76.77 85.69 94.82" font-size="16.09">Driver Gender</text>
<text transform="translate(1062.04,946.95) rotate(-89.95) scale(1.0834,1)" x="-1.47 8.21 17.16 25.20 34.23 39.97 44.23 49.37" font-size="16.09">Severity</text>
<text transform="translate(1175.58,793.77) rotate(0.05) scale(1.0666,1)" x="0.10 9.17 13.71" font-size="16.32">0.0</text>
<text transform="translate(1175.58,658.35) rotate(0.05) scale(1.0669,1)" x="-0.04 9.04 13.58" font-size="16.32">0.2</text>
<text transform="translate(1175.58,522.92) rotate(0.05) scale(1.0794,1)" x="0.09 9.17 13.71" font-size="16.32">0.4</text>
<text transform="translate(1175.58,388.11) rotate(0.05) scale(1.0714,1)" x="0.26 9.34 13.87" font-size="16.32">0.6</text>
<text transform="translate(1175.58,252.58) rotate(0.05) scale(1.0842,1)" x="0.06 9.14 13.67" font-size="16.32">0.8</text>
<text transform="translate(1175.58,117.61) rotate(0.05) scale(1.0456,1)" x="0.30 9.38 13.92" font-size="16.32">1.0</text>
<text transform="translate(368.76,18.19) rotate(0.05) scale(1.1201,1)" x="-0.13 14.79 26.11 38.18 44.53 58.46 71.12 85.61 94.12 100.37 116.53 130.13 138.55 151.40 159.16 165.74 184.77 191.06 203.70 216.39 230.30 236.39 247.48 259.92 273.85 286.78 292.11 306.93 320.70 330.12 339.42 352.31 358.81 372.41 380.87 386.95 400.31 414.18 419.89 435.33 449.12 462.04 468.41 480.31 492.40 498.23" font-size="22.53" font-weight="bold" stroke="#000" stroke-width="0.5">Accident Data: Mixed Type Correlation Analysis</text>
<text transform="translate(615.99,1098.60) rotate(0.05) scale(1.0188,1)" x="0.38 10.49 21.36 32.96 39.37 50.79 57.33 67.94" font-size="19.31">Features</text>
<text transform="translate(19.47,490.01) rotate(-89.95) scale(1.0154,1)" x="-1.27 8.84 19.71 31.31 37.72 49.14 55.68 66.29" font-size="19.31">Features</text>
<text transform="translate(240.75,52.21) rotate(0.05) scale(1.0593,1)" x="0.05 7.31 10.94 18.20" font-size="13.06" fill="#ffffff">1.00</text>
<text transform="translate(282.99,52.34) rotate(0.05) scale(1.0516,1)" x="-0.09 7.17 10.80 18.06" font-size="13.06" fill="#ffffff">0.05</text>
<text transform="translate(325.21,52.10) rotate(0.05) scale(1.0604,1)" x="-0.02 7.25 10.88 18.14" font-size="13.06" fill="#ffffff">0.03</text>
<text transform="translate(367.45,52.14) rotate(0.05) scale(1.0645,1)" x="0.27 7.53 11.16 18.42" font-size="13.06" fill="#ffffff">0.00</text>
<text transform="translate(409.69,52.14) rotate(0.05) scale(1.0602,1)" x="0.45 7.71 11.34 18.60" font-size="13.06" fill="#ffffff">0.00</text>
<text transform="translate(451.93,52.15) rotate(0.05) scale(1.0633,1)" x="0.09 7.35 10.98 18.24" font-size="13.06" fill="#ffffff">0.00</text>
<text transform="translate(494.17,52.19) rotate(0.05) scale(1.0647,1)" x="0.29 7.55 11.18 18.45" font-size="13.06" fill="#ffffff">0.09</text>
<text transform="translate(536.41,52.08) rotate(0.05) scale(1.0670,1)" x="0.07 7.33 10.96 18.22" font-size="13.06" fill="#ffffff">0.03</text>
<text transform="translate(578.65,52.29) rotate(0.05) scale(1.0699,1)" x="0.35 7.62 11.24 18.51" font-size="13.06" fill="#ffffff">0.06</text>
<text transform="translate(620.91,52.09) rotate(0.05) scale(1.0614,1)" x="-0.23 7.03 10.66 17.92" font-size="13.06" fill="#ffffff">0.13</text>
<text transform="translate(663.13,52.11) rotate(0.05) scale(1.0526,1)" x="0.12 7.38 11.01 18.27" font-size="13.06" fill="#ffffff">0.03</text>
<text transform="translate(705.39,52.11) rotate(0.05) scale(1.0648,1)" x="-0.16 7.10 10.73 17.99" font-size="13.06" fill="#ffffff">0.13</text>
<text transform="translate(747.61,52.19) rotate(0.05) scale(1.0537,1)" x="0.02 7.28 10.91 18.17" font-size="13.06" fill="#ffffff">0.02</text>
<text transform="translate(789.87,52.20) rotate(0.05) scale(1.0589,1)" x="0.17 7.43 11.06 18.32" font-size="13.06" fill="#ffffff">0.08</text>
<text transform="translate(832.11,52.35) rotate(0.05) scale(1.0595,1)" x="-0.01 7.25 10.88 18.14" font-size="13.06" fill="#ffffff">0.05</text>
<text transform="translate(874.35,52.33) rotate(0.05) scale(1.0623,1)" x="0.36 7.62 11.25 18.52" font-size="13.06" fill="#ffffff">0.07</text>
<text transform="translate(916.57,52.14) rotate(0.05) scale(1.0649,1)" x="0.17 7.43 11.06 18.32" font-size="13.06" fill="#ffffff">0.00</text>
<text transform="translate(958.83,52.34) rotate(0.05) scale(1.0516,1)" x="0.10 7.37 10.99 18.26" font-size="13.06" fill="#ffffff">0.05</text>
<text transform="translate(1001.05,52.21) rotate(0.05) scale(1.0611,1)" x="0.28 7.54 11.17 18.43" font-size="13.06" fill="#ffffff">0.02</text>
<text transform="translate(1043.31,52.34) rotate(0.05) scale(1.0593,1)" x="-0.17 7.09 10.72 17.98" font-size="13.06" fill="#ffffff">0.05</text>
<text transform="translate(240.75,94.52) rotate(0.05) scale(1.0515,1)" x="0.06 7.32 10.95 18.21" font-size="13.06" fill="#ffffff">0.05</text>
<text transform="translate(282.99,94.51) rotate(0.05) scale(1.0553,1)" x="0.30 7.56 11.19 18.45" font-size="13.06" fill="#ffffff">1.00</text>
<text transform="translate(325.21,94.62) rotate(0.05) scale(1.0687,1)" x="0.19 7.45 11.08 18.34" font-size="13.06" fill="#ffffff">0.00</text>
<text transform="translate(367.45,94.61) rotate(0.05) scale(1.0637,1)" x="0.31 7.58 11.21 18.47" font-size="13.06" fill="#ffffff">0.04</text>
<text transform="translate(409.69,94.54) rotate(0.05) scale(1.0545,1)" x="0.38 7.64 11.27 18.54" font-size="13.06" fill="#ffffff">0.04</text>
<text transform="translate(451.93,94.58) rotate(0.05) scale(1.0635,1)" x="-0.11 7.15 10.78 18.04" font-size="13.06" fill="#ffffff">0.03</text>
<text transform="translate(494.17,94.59) rotate(0.05) scale(1.0610,1)" x="0.14 7.41 11.03 18.30" font-size="13.06" fill="#ffffff">0.02</text>
<text transform="translate(536.41,94.46) rotate(0.05) scale(1.0637,1)" x="0.24 7.51 11.13 18.40" font-size="13.06" fill="#ffffff">0.09</text>
<text transform="translate(578.67,94.49) rotate(0.05) scale(1.0555,1)" x="0.36 7.62 11.25 18.52" font-size="13.06" fill="#ffffff">0.01</text>
<text transform="translate(620.91,94.49) rotate(0.05) scale(1.0572,1)" x="0.06 7.33 10.96 18.22" font-size="13.06" fill="#ffffff">0.01</text>
<text transform="translate(663.13,94.56) rotate(0.05) scale(1.0618,1)" x="0.28 7.54 11.17 18.43" font-size="13.06" fill="#ffffff">0.00</text>
<text transform="translate(705.37,94.57) rotate(0.05) scale(1.0603,1)" x="0.13 7.39 11.02 18.28" font-size="13.06" fill="#ffffff">0.03</text>
<text transform="translate(747.61,94.46) rotate(0.05) scale(1.0573,1)" x="0.12 7.38 11.01 18.27" font-size="13.06" fill="#ffffff">0.09</text>
<text transform="translate(789.85,94.62) rotate(0.05) scale(1.0485,1)" x="0.17 7.43 11.06 18.32" font-size="13.06" fill="#ffffff">0.02</text>
<text transform="translate(832.11,94.46) rotate(0.05) scale(1.0510,1)" x="0.25 7.51 11.14 18.41" font-size="13.06" fill="#ffffff">0.01</text>
<text transform="translate(874.35,94.52) rotate(0.05) scale(1.0538,1)" x="0.33 7.60 11.22 18.49" font-size="13.06" fill="#ffffff">0.01</text>
<text transform="translate(916.57,94.55) rotate(0.05) scale(1.0563,1)" x="0.36 7.62 11.25 18.51" font-size="13.06" fill="#ffffff">0.06</text>
<text transform="translate(958.81,94.62) rotate(0.05) scale(1.0575,1)" x="0.30 7.56 11.19 18.45" font-size="13.06" fill="#ffffff">0.04</text>
<text transform="translate(1001.05,94.57) rotate(0.05) scale(1.0684,1)" x="0.37 7.63 11.26 18.53" font-size="13.06" fill="#ffffff">0.00</text>
<text transform="translate(1043.29,94.57) rotate(0.05) scale(1.0533,1)" x="0.06 7.32 10.95 18.21" font-size="13.06" fill="#ffffff">0.02</text>
<text transform="translate(240.73,136.52) rotate(0.05) scale(1.0608,1)" x="0.08 7.35 10.97 18.24" font-size="13.06" fill="#ffffff">0.03</text>
<text transform="translate(282.97,136.50) rotate(0.05) scale(1.0604,1)" x="0.07 7.33 10.96 18.23" font-size="13.06" fill="#ffffff">0.00</text>
<text transform="translate(325.23,136.42) rotate(0.05) scale(1.0640,1)" x="0.14 7.41 11.03 18.30" font-size="13.06" fill="#ffffff">1.00</text>
<text transform="translate(367.45,136.51) rotate(0.05) scale(1.0585,1)" x="0.11 7.37 11.00 18.26" font-size="13.06" fill="#ffffff">0.03</text>
<text transform="translate(409.71,136.44) rotate(0.05) scale(1.0576,1)" x="0.27 7.53 11.16 18.42" font-size="13.06" fill="#ffffff">0.01</text>
<text transform="translate(451.95,136.45) rotate(0.05) scale(1.0561,1)" x="0.10 7.37 10.99 18.26" font-size="13.06" fill="#ffffff">0.01</text>
<text transform="translate(494.17,136.49) rotate(0.05) scale(1.0600,1)" x="0.16 7.42 11.05 18.31" font-size="13.06" fill="#ffffff">0.00</text>
<text transform="translate(536.41,136.49) rotate(0.05) scale(1.0655,1)" x="0.23 7.50 11.12 18.39" font-size="13.06" fill="#ffffff">0.00</text>
<text transform="translate(578.67,136.44) rotate(0.05) scale(1.0592,1)" x="0.32 7.59 11.22 18.48" font-size="13.06" fill="#ffffff">0.01</text>
<text transform="translate(620.91,136.44) rotate(0.05) scale(1.0580,1)" x="0.15 7.42 11.04 18.31" font-size="13.06" fill="#ffffff">0.01</text>
<text transform="translate(663.15,136.43) rotate(0.05) scale(1.0498,1)" x="0.25 7.51 11.14 18.40" font-size="13.06" fill="#ffffff">0.01</text>
<text transform="translate(705.37,136.45) rotate(0.05) scale(1.0601,1)" x="0.09 7.35 10.98 18.24" font-size="13.06" fill="#ffffff">0.03</text>
<text transform="translate(747.63,136.46) rotate(0.05) scale(1.0610,1)" x="-0.05 7.22 10.85 18.11" font-size="13.06" fill="#ffffff">0.01</text>
<text transform="translate(789.87,136.45) rotate(0.05) scale(1.0486,1)" x="0.25 7.51 11.14 18.40" font-size="13.06" fill="#ffffff">0.01</text>
<text transform="translate(832.11,136.42) rotate(0.05) scale(1.0608,1)" x="0.21 7.47 11.10 18.36" font-size="13.06" fill="#ffffff">0.01</text>
<text transform="translate(874.35,136.41) rotate(0.05) scale(1.0524,1)" x="0.30 7.56 11.19 18.45" font-size="13.06" fill="#ffffff">0.01</text>
<text transform="translate(916.57,136.60) rotate(0.05) scale(1.0623,1)" x="0.21 7.48 11.10 18.37" font-size="13.06" fill="#ffffff">0.04</text>
<text transform="translate(958.83,136.45) rotate(0.05) scale(1.0506,1)" x="0.30 7.57 11.19 18.46" font-size="13.06" fill="#ffffff">0.01</text>
<text transform="translate(1001.05,136.53) rotate(0.05) scale(1.0467,1)" x="0.36 7.62 11.25 18.51" font-size="13.06" fill="#ffffff">0.02</text>
<text transform="translate(1043.29,136.49) rotate(0.05) scale(1.0586,1)" x="0.15 7.42 11.05 18.31" font-size="13.06" fill="#ffffff">0.00</text>
<text transform="translate(240.73,178.87) rotate(0.05) scale(1.0574,1)" x="0.26 7.52 11.15 18.42" font-size="13.06" fill="#ffffff">0.00</text>
<text transform="translate(282.97,178.94) rotate(0.05) scale(1.0683,1)" x="0.08 7.34 10.97 18.23" font-size="13.06" fill="#ffffff">0.04</text>
<text transform="translate(325.21,178.82) rotate(0.05) scale(1.0618,1)" x="0.08 7.34 10.97 18.23" font-size="13.06" fill="#ffffff">0.03</text>
<text transform="translate(367.47,178.78) rotate(0.05) scale(1.0614,1)" x="0.51 7.77 11.40 18.66" font-size="13.06" fill="#ffffff">1.00</text>
<text transform="translate(409.73,178.86) rotate(0.05) scale(1.1001,1)" x="0.12 7.17 10.59 17.58" font-size="13.06" fill="#ffffff">0.11</text>
<text transform="translate(451.95,178.76) rotate(0.05) scale(1.0616,1)" x="0.02 7.29 10.92 18.18" font-size="13.06" fill="#ffffff">0.01</text>
<text transform="translate(494.17,178.92) rotate(0.05) scale(1.0576,1)" x="0.22 7.49 11.11 18.38" font-size="13.06" fill="#ffffff">0.02</text>
<text transform="translate(536.43,178.79) rotate(0.05) scale(1.0514,1)" x="0.29 7.56 11.19 18.45" font-size="13.06" fill="#ffffff">0.01</text>
<text transform="translate(578.65,178.79) rotate(0.05) scale(1.0558,1)" x="-0.12 7.15 10.77 18.04" font-size="13.06" fill="#ffffff">0.03</text>
<text transform="translate(620.89,178.89) rotate(0.05) scale(1.0640,1)" x="-0.06 7.20 10.83 18.09" font-size="13.06" fill="#ffffff">0.03</text>
<text transform="translate(663.13,178.92) rotate(0.05) scale(1.0490,1)" x="0.27 7.53 11.16 18.42" font-size="13.06" fill="#ffffff">0.02</text>
<text transform="translate(705.39,178.93) rotate(0.05) scale(1.0634,1)" x="0.47 7.73 11.36 18.62" font-size="13.06" fill="#ffffff">0.16</text>
<text transform="translate(747.63,178.79) rotate(0.05) scale(1.0559,1)" x="0.08 7.35 10.97 18.24" font-size="13.06" fill="#ffffff">0.01</text>
<text transform="translate(789.87,178.76) rotate(0.05) scale(1.0548,1)" x="0.20 7.47 11.09 18.36" font-size="13.06" fill="#ffffff">0.01</text>
<text transform="translate(832.09,178.93) rotate(0.05) scale(1.0574,1)" x="0.29 7.56 11.19 18.45" font-size="13.06" fill="#ffffff">0.04</text>
<text transform="translate(874.33,178.81) rotate(0.05) scale(1.0637,1)" x="-0.20 7.07 10.70 17.96" font-size="13.06" fill="#ffffff">0.03</text>
<text transform="translate(916.57,178.92) rotate(0.05) scale(1.0512,1)" x="0.18 7.44 11.07 18.34" font-size="13.06" fill="#ffffff">0.04</text>
<text transform="translate(958.83,178.76) rotate(0.05) scale(1.0548,1)" x="0.20 7.47 11.09 18.36" font-size="13.06" fill="#ffffff">0.01</text>
<text transform="translate(1001.05,178.92) rotate(0.05) scale(1.0514,1)" x="0.38 7.65 11.28 18.54" font-size="13.06" fill="#ffffff">0.02</text>
<text transform="translate(1043.29,178.91) rotate(0.05) scale(1.0484,1)" x="0.08 7.34 10.97 18.23" font-size="13.06" fill="#ffffff">0.02</text>
<text transform="translate(240.73,221.24) rotate(0.05) scale(1.0596,1)" x="0.38 7.64 11.27 18.54" font-size="13.06" fill="#ffffff">0.00</text>
<text transform="translate(282.97,221.14) rotate(0.05) scale(1.0648,1)" x="0.12 7.39 11.02 18.28" font-size="13.06" fill="#ffffff">0.04</text>
<text transform="translate(325.23,221.11) rotate(0.05) scale(1.0623,1)" x="0.12 7.39 11.01 18.28" font-size="13.06" fill="#ffffff">0.01</text>
<text transform="translate(367.49,221.16) rotate(0.05) scale(1.0983,1)" x="-0.03 7.03 10.45 17.44" font-size="13.06" fill="#ffffff">0.11</text>
<text transform="translate(409.71,221.12) rotate(0.05) scale(1.0519,1)" x="0.18 7.44 11.07 18.33" font-size="13.06" fill="#ffffff">1.00</text>
<text transform="translate(451.93,221.13) rotate(0.05) scale(1.0599,1)" x="0.01 7.27 10.90 18.16" font-size="13.06" fill="#ffffff">0.02</text>
<text transform="translate(494.17,221.08) rotate(0.05) scale(1.0581,1)" x="0.01 7.27 10.90 18.16" font-size="13.06" fill="#ffffff">0.03</text>
<text transform="translate(536.41,221.24) rotate(0.05) scale(1.0646,1)" x="0.26 7.52 11.15 18.41" font-size="13.06" fill="#ffffff">0.00</text>
<text transform="translate(578.67,221.10) rotate(0.05) scale(1.0554,1)" x="0.37 7.63 11.26 18.52" font-size="13.06" fill="#ffffff">0.01</text>
<text transform="translate(620.89,221.14) rotate(0.05) scale(1.0530,1)" x="0.16 7.43 11.05 18.32" font-size="13.06" fill="#ffffff">0.02</text>
<text transform="translate(663.13,221.24) rotate(0.05) scale(1.0643,1)" x="0.26 7.53 11.15 18.42" font-size="13.06" fill="#ffffff">0.00</text>
<text transform="translate(705.39,221.10) rotate(0.05) scale(1.0697,1)" x="0.29 7.56 11.18 18.45" font-size="13.06" fill="#ffffff">0.10</text>
<text transform="translate(747.63,221.11) rotate(0.05) scale(1.0535,1)" x="0.05 7.32 10.94 18.21" font-size="13.06" fill="#ffffff">0.01</text>
<text transform="translate(789.85,221.24) rotate(0.05) scale(1.0657,1)" x="0.18 7.44 11.07 18.33" font-size="13.06" fill="#ffffff">0.00</text>
<text transform="translate(832.09,221.14) rotate(0.05) scale(1.0610,1)" x="0.09 7.35 10.98 18.24" font-size="13.06" fill="#ffffff">0.03</text>
<text transform="translate(874.35,221.29) rotate(0.05) scale(1.0612,1)" x="0.12 7.38 11.01 18.27" font-size="13.06" fill="#ffffff">0.05</text>
<text transform="translate(916.57,221.17) rotate(0.05) scale(1.0577,1)" x="-0.06 7.20 10.83 18.09" font-size="13.06" fill="#ffffff">0.03</text>
<text transform="translate(958.81,221.14) rotate(0.05) scale(1.0551,1)" x="0.23 7.49 11.12 18.38" font-size="13.06" fill="#ffffff">0.02</text>
<text transform="translate(1001.05,221.14) rotate(0.05) scale(1.0606,1)" x="0.10 7.36 10.99 18.25" font-size="13.06" fill="#ffffff">0.03</text>
<text transform="translate(1043.31,221.12) rotate(0.05) scale(1.0491,1)" x="-0.01 7.25 10.88 18.14" font-size="13.06" fill="#ffffff">0.01</text>
<text transform="translate(240.73,263.12) rotate(0.05) scale(1.0603,1)" x="0.38 7.65 11.28 18.54" font-size="13.06" fill="#ffffff">0.00</text>
<text transform="translate(282.97,263.18) rotate(0.05) scale(1.0581,1)" x="-0.15 7.12 10.75 18.01" font-size="13.06" fill="#ffffff">0.03</text>
<text transform="translate(325.23,263.11) rotate(0.05) scale(1.0527,1)" x="0.11 7.37 11.00 18.26" font-size="13.06" fill="#ffffff">0.01</text>
<text transform="translate(367.47,263.11) rotate(0.05) scale(1.0451,1)" x="0.22 7.49 11.11 18.38" font-size="13.06" fill="#ffffff">0.01</text>
<text transform="translate(409.69,263.19) rotate(0.05) scale(1.0523,1)" x="0.32 7.59 11.22 18.48" font-size="13.06" fill="#ffffff">0.02</text>
<text transform="translate(451.95,263.21) rotate(0.05) scale(1.0563,1)" x="0.27 7.54 11.17 18.43" font-size="13.06" fill="#ffffff">1.00</text>
<text transform="translate(494.19,263.34) rotate(0.05) scale(1.0546,1)" x="-0.03 7.23 10.86 18.13" font-size="13.06" fill="#262626">0.45</text>
<text transform="translate(536.41,263.18) rotate(0.05) scale(1.0642,1)" x="0.36 7.62 11.25 18.51" font-size="13.06" fill="#ffffff">0.04</text>
<text transform="translate(578.65,263.18) rotate(0.05) scale(1.0584,1)" x="-0.02 7.25 10.88 18.14" font-size="13.06" fill="#ffffff">0.04</text>
<text transform="translate(620.89,263.30) rotate(0.05) scale(1.0658,1)" x="0.38 7.64 11.27 18.53" font-size="13.06" fill="#ffffff">0.06</text>
<text transform="translate(663.15,263.13) rotate(0.05) scale(1.0645,1)" x="0.06 7.32 10.95 18.22" font-size="13.06" fill="#ffffff">0.12</text>
<text transform="translate(705.39,263.35) rotate(0.05) scale(1.0519,1)" x="0.14 7.41 11.03 18.30" font-size="13.06" fill="#ffffff">0.05</text>
<text transform="translate(747.61,263.16) rotate(0.05) scale(1.0613,1)" x="0.07 7.34 10.96 18.23" font-size="13.06" fill="#ffffff">0.02</text>
<text transform="translate(789.87,263.33) rotate(0.05) scale(1.0500,1)" x="0.05 7.31 10.94 18.20" font-size="13.06" fill="#ffffff">0.05</text>
<text transform="translate(832.13,263.10) rotate(0.05) scale(1.0980,1)" x="-0.06 6.99 10.42 17.40" font-size="13.06" fill="#ffffff">0.11</text>
<text transform="translate(874.35,263.17) rotate(0.05) scale(1.0629,1)" x="0.37 7.63 11.26 18.52" font-size="13.06" fill="#ffffff">0.08</text>
<text transform="translate(916.59,263.30) rotate(0.05) scale(1.0635,1)" x="0.26 7.52 11.15 18.41" font-size="13.06" fill="#ffffff">0.07</text>
<text transform="translate(958.83,263.17) rotate(0.05) scale(1.0507,1)" x="0.22 7.49 11.12 18.38" font-size="13.06" fill="#ffffff">0.01</text>
<text transform="translate(1001.05,263.21) rotate(0.05) scale(1.0630,1)" x="0.36 7.62 11.25 18.51" font-size="13.06" fill="#ffffff">0.04</text>
<text transform="translate(1043.31,263.20) rotate(0.05) scale(1.0661,1)" x="0.00 7.27 10.89 18.16" font-size="13.06" fill="#ffffff">0.14</text>
<text transform="translate(240.73,305.46) rotate(0.05) scale(1.0600,1)" x="0.41 7.67 11.30 18.56" font-size="13.06" fill="#ffffff">0.09</text>
<text transform="translate(282.97,305.61) rotate(0.05) scale(1.0498,1)" x="0.11 7.37 11.00 18.26" font-size="13.06" fill="#ffffff">0.02</text>
<text transform="translate(325.21,305.58) rotate(0.05) scale(1.0600,1)" x="0.21 7.47 11.10 18.36" font-size="13.06" fill="#ffffff">0.00</text>
<text transform="translate(367.45,305.50) rotate(0.05) scale(1.0589,1)" x="0.17 7.43 11.06 18.33" font-size="13.06" fill="#ffffff">0.02</text>
<text transform="translate(409.69,305.55) rotate(0.05) scale(1.0545,1)" x="0.21 7.48 11.11 18.37" font-size="13.06" fill="#ffffff">0.03</text>
<text transform="translate(451.95,305.62) rotate(0.05) scale(1.0589,1)" x="-0.23 7.04 10.66 17.93" font-size="13.06" fill="#262626">0.45</text>
<text transform="translate(494.19,305.46) rotate(0.05) scale(1.0608,1)" x="0.34 7.60 11.23 18.49" font-size="13.06" fill="#ffffff">1.00</text>
<text transform="translate(536.41,305.52) rotate(0.05) scale(1.0702,1)" x="0.46 7.72 11.35 18.61" font-size="13.06" fill="#ffffff">0.06</text>
<text transform="translate(578.65,305.53) rotate(0.05) scale(1.0690,1)" x="0.36 7.62 11.25 18.52" font-size="13.06" fill="#ffffff">0.06</text>
<text transform="translate(620.89,305.63) rotate(0.05) scale(1.0652,1)" x="0.30 7.57 11.19 18.46" font-size="13.06" fill="#ffffff">0.06</text>
<text transform="translate(663.13,305.55) rotate(0.05) scale(1.0706,1)" x="0.04 7.30 10.93 18.19" font-size="13.06" fill="#ffffff">0.20</text>
<text transform="translate(705.37,305.59) rotate(0.05) scale(1.0661,1)" x="0.36 7.62 11.25 18.51" font-size="13.06" fill="#ffffff">0.04</text>
<text transform="translate(747.61,305.63) rotate(0.05) scale(1.0534,1)" x="0.07 7.34 10.96 18.23" font-size="13.06" fill="#ffffff">0.02</text>
<text transform="translate(789.85,305.55) rotate(0.05) scale(1.0640,1)" x="-0.00 7.26 10.89 18.15" font-size="13.06" fill="#ffffff">0.03</text>
<text transform="translate(832.09,305.41) rotate(0.05) scale(1.0677,1)" x="0.33 7.59 11.22 18.48" font-size="13.06" fill="#ffffff">0.09</text>
<text transform="translate(874.35,305.43) rotate(0.05) scale(1.0619,1)" x="0.02 7.28 10.91 18.17" font-size="13.06" fill="#ffffff">0.13</text>
<text transform="translate(916.61,305.61) rotate(0.05) scale(1.0668,1)" x="0.01 7.27 10.90 18.16" font-size="13.06" fill="#ffffff">0.17</text>
<text transform="translate(958.81,305.55) rotate(0.05) scale(1.0623,1)" x="0.05 7.32 10.94 18.21" font-size="13.06" fill="#ffffff">0.03</text>
<text transform="translate(1001.05,305.57) rotate(0.05) scale(1.0554,1)" x="0.35 7.62 11.25 18.51" font-size="13.06" fill="#ffffff">0.02</text>
<text transform="translate(1043.29,305.51) rotate(0.05) scale(1.0612,1)" x="0.26 7.52 11.15 18.41" font-size="13.06" fill="#ffffff">0.06</text>
<text transform="translate(240.73,347.80) rotate(0.05) scale(1.0559,1)" x="0.23 7.49 11.12 18.38" font-size="13.06" fill="#ffffff">0.03</text>
<text transform="translate(282.97,347.75) rotate(0.05) scale(1.0680,1)" x="-0.03 7.24 10.87 18.13" font-size="13.06" fill="#ffffff">0.09</text>
<text transform="translate(325.21,347.83) rotate(0.05) scale(1.0662,1)" x="0.19 7.45 11.08 18.34" font-size="13.06" fill="#ffffff">0.00</text>
<text transform="translate(367.47,347.77) rotate(0.05) scale(1.0470,1)" x="0.29 7.55 11.18 18.44" font-size="13.06" fill="#ffffff">0.01</text>
<text transform="translate(409.69,347.89) rotate(0.05) scale(1.0653,1)" x="0.33 7.59 11.22 18.49" font-size="13.06" fill="#ffffff">0.00</text>
<text transform="translate(451.93,347.85) rotate(0.05) scale(1.0586,1)" x="0.19 7.46 11.08 18.35" font-size="13.06" fill="#ffffff">0.04</text>
<text transform="translate(494.17,347.85) rotate(0.05) scale(1.0638,1)" x="0.34 7.60 11.23 18.49" font-size="13.06" fill="#ffffff">0.06</text>
<text transform="translate(536.43,347.90) rotate(0.05) scale(1.0614,1)" x="0.10 7.36 10.99 18.26" font-size="13.06" fill="#ffffff">1.00</text>
<text transform="translate(578.65,347.90) rotate(0.05) scale(1.0631,1)" x="0.17 7.43 11.06 18.32" font-size="13.06" fill="#ffffff">0.00</text>
<text transform="translate(620.89,347.93) rotate(0.05) scale(1.0510,1)" x="0.16 7.43 11.05 18.32" font-size="13.06" fill="#ffffff">0.02</text>
<text transform="translate(663.15,347.82) rotate(0.05) scale(1.0660,1)" x="0.01 7.28 10.90 18.17" font-size="13.06" fill="#ffffff">0.21</text>
<text transform="translate(705.37,347.77) rotate(0.05) scale(1.0604,1)" x="0.11 7.37 11.00 18.26" font-size="13.06" fill="#ffffff">0.03</text>
<text transform="translate(747.63,347.86) rotate(0.05) scale(1.0683,1)" x="0.05 7.31 10.94 18.20" font-size="13.06" fill="#262626">0.48</text>
<text transform="translate(789.87,347.89) rotate(0.05) scale(1.0590,1)" x="0.06 7.32 10.95 18.21" font-size="13.06" fill="#ffffff">0.05</text>
<text transform="translate(832.09,347.79) rotate(0.05) scale(1.0625,1)" x="0.02 7.29 10.92 18.18" font-size="13.06" fill="#ffffff">0.03</text>
<text transform="translate(874.33,347.90) rotate(0.05) scale(1.0660,1)" x="0.09 7.36 10.98 18.25" font-size="13.06" fill="#ffffff">0.00</text>
<text transform="translate(916.59,347.84) rotate(0.05) scale(1.0499,1)" x="0.11 7.37 11.00 18.26" font-size="13.06" fill="#ffffff">0.01</text>
<text transform="translate(958.83,347.88) rotate(0.05) scale(1.0606,1)" x="0.24 7.50 11.13 18.39" font-size="13.06" fill="#ffffff">0.01</text>
<text transform="translate(1001.05,347.91) rotate(0.05) scale(1.0580,1)" x="0.37 7.63 11.26 18.52" font-size="13.06" fill="#ffffff">0.00</text>
<text transform="translate(1043.29,347.95) rotate(0.05) scale(1.0550,1)" x="0.15 7.41 11.04 18.30" font-size="13.06" fill="#ffffff">0.04</text>
<text transform="translate(240.73,390.34) rotate(0.05) scale(1.0761,1)" x="0.46 7.72 11.35 18.62" font-size="13.06" fill="#ffffff">0.06</text>
<text transform="translate(282.99,390.20) rotate(0.05) scale(1.0580,1)" x="0.09 7.35 10.98 18.24" font-size="13.06" fill="#ffffff">0.01</text>
<text transform="translate(325.23,390.21) rotate(0.05) scale(1.0533,1)" x="0.18 7.45 11.07 18.34" font-size="13.06" fill="#ffffff">0.01</text>
<text transform="translate(367.45,390.09) rotate(0.05) scale(1.0576,1)" x="0.01 7.27 10.90 18.16" font-size="13.06" fill="#ffffff">0.03</text>
<text transform="translate(409.71,390.20) rotate(0.05) scale(1.0633,1)" x="0.32 7.58 11.21 18.47" font-size="13.06" fill="#ffffff">0.01</text>
<text transform="translate(451.93,390.23) rotate(0.05) scale(1.0557,1)" x="0.24 7.50 11.13 18.40" font-size="13.06" fill="#ffffff">0.04</text>
<text transform="translate(494.17,390.32) rotate(0.05) scale(1.0644,1)" x="0.30 7.57 11.20 18.46" font-size="13.06" fill="#ffffff">0.06</text>
<text transform="translate(536.41,390.15) rotate(0.05) scale(1.0648,1)" x="0.26 7.52 11.15 18.41" font-size="13.06" fill="#ffffff">0.00</text>
<text transform="translate(578.67,390.22) rotate(0.05) scale(1.0603,1)" x="0.12 7.38 11.01 18.27" font-size="13.06" fill="#ffffff">1.00</text>
<text transform="translate(620.93,390.25) rotate(0.05) scale(1.0695,1)" x="0.02 7.28 10.91 18.17" font-size="13.06" fill="#ffffff">0.17</text>
<text transform="translate(663.13,390.12) rotate(0.05) scale(1.0623,1)" x="-0.03 7.24 10.87 18.13" font-size="13.06" fill="#ffffff">0.03</text>
<text transform="translate(705.37,390.15) rotate(0.05) scale(1.0664,1)" x="0.33 7.60 11.23 18.49" font-size="13.06" fill="#ffffff">0.00</text>
<text transform="translate(747.61,390.16) rotate(0.05) scale(1.0644,1)" x="0.12 7.38 11.01 18.27" font-size="13.06" fill="#ffffff">0.00</text>
<text transform="translate(789.87,390.30) rotate(0.05) scale(1.0511,1)" x="0.05 7.31 10.94 18.20" font-size="13.06" fill="#ffffff">0.05</text>
<text transform="translate(832.09,390.14) rotate(0.05) scale(1.0626,1)" x="0.31 7.57 11.20 18.46" font-size="13.06" fill="#ffffff">0.00</text>
<text transform="translate(874.35,390.12) rotate(0.05) scale(1.0572,1)" x="0.00 7.26 10.89 18.15" font-size="13.06" fill="#ffffff">0.13</text>
<text transform="translate(916.57,390.21) rotate(0.05) scale(1.0556,1)" x="0.08 7.34 10.97 18.24" font-size="13.06" fill="#ffffff">0.02</text>
<text transform="translate(958.83,390.13) rotate(0.05) scale(1.0605,1)" x="0.08 7.34 10.97 18.23" font-size="13.06" fill="#ffffff">0.21</text>
<text transform="translate(1001.05,390.22) rotate(0.05) scale(1.0614,1)" x="0.27 7.53 11.16 18.42" font-size="13.06" fill="#ffffff">0.02</text>
<text transform="translate(1043.31,390.21) rotate(0.05) scale(1.0592,1)" x="0.10 7.37 11.00 18.26" font-size="13.06" fill="#ffffff">0.01</text>
<text transform="translate(240.75,432.22) rotate(0.05) scale(1.0613,1)" x="-0.04 7.22 10.85 18.11" font-size="13.06" fill="#ffffff">0.13</text>
<text transform="translate(282.99,432.07) rotate(0.05) scale(1.0582,1)" x="0.12 7.38 11.01 18.27" font-size="13.06" fill="#ffffff">0.01</text>
<text transform="translate(325.23,432.07) rotate(0.05) scale(1.0601,1)" x="0.09 7.36 10.98 18.25" font-size="13.06" fill="#ffffff">0.01</text>
<text transform="translate(367.45,432.09) rotate(0.05) scale(1.0574,1)" x="0.01 7.27 10.90 18.16" font-size="13.06" fill="#ffffff">0.03</text>
<text transform="translate(409.69,432.11) rotate(0.05) scale(1.0528,1)" x="0.32 7.58 11.21 18.47" font-size="13.06" fill="#ffffff">0.02</text>
<text transform="translate(451.93,432.22) rotate(0.05) scale(1.0685,1)" x="0.26 7.53 11.15 18.42" font-size="13.06" fill="#ffffff">0.06</text>
<text transform="translate(494.17,432.20) rotate(0.05) scale(1.0643,1)" x="0.33 7.59 11.22 18.48" font-size="13.06" fill="#ffffff">0.06</text>
<text transform="translate(536.41,432.21) rotate(0.05) scale(1.0582,1)" x="0.29 7.55 11.18 18.44" font-size="13.06" fill="#ffffff">0.02</text>
<text transform="translate(578.69,432.16) rotate(0.05) scale(1.0644,1)" x="0.38 7.64 11.27 18.53" font-size="13.06" fill="#ffffff">0.17</text>
<text transform="translate(620.91,432.08) rotate(0.05) scale(1.0629,1)" x="0.26 7.53 11.16 18.42" font-size="13.06" fill="#ffffff">1.00</text>
<text transform="translate(663.13,432.08) rotate(0.05) scale(1.0658,1)" x="0.26 7.52 11.15 18.41" font-size="13.06" fill="#ffffff">0.09</text>
<text transform="translate(705.37,432.21) rotate(0.05) scale(1.0583,1)" x="0.29 7.55 11.18 18.45" font-size="13.06" fill="#ffffff">0.02</text>
<text transform="translate(747.61,432.10) rotate(0.05) scale(1.0649,1)" x="0.17 7.43 11.06 18.32" font-size="13.06" fill="#ffffff">0.00</text>
<text transform="translate(789.87,432.07) rotate(0.05) scale(1.0512,1)" x="0.27 7.53 11.16 18.42" font-size="13.06" fill="#ffffff">0.01</text>
<text transform="translate(832.09,432.11) rotate(0.05) scale(1.0543,1)" x="0.28 7.55 11.18 18.44" font-size="13.06" fill="#ffffff">0.04</text>
<text transform="translate(874.35,432.18) rotate(0.05) scale(1.0715,1)" x="-0.12 7.15 10.78 18.04" font-size="13.06" fill="#262626">0.35</text>
<text transform="translate(916.57,432.15) rotate(0.05) scale(1.0553,1)" x="0.07 7.34 10.96 18.23" font-size="13.06" fill="#ffffff">0.02</text>
<text transform="translate(958.81,432.07) rotate(0.05) scale(1.0761,1)" x="-0.23 7.03 10.66 17.92" font-size="13.06" fill="#262626">0.33</text>
<text transform="translate(1001.05,432.25) rotate(0.05) scale(1.0763,1)" x="0.10 7.36 10.99 18.25" font-size="13.06" fill="#262626">0.34</text>
<text transform="translate(1043.31,432.32) rotate(0.05) scale(1.0562,1)" x="0.06 7.33 10.96 18.22" font-size="13.06" fill="#ffffff">0.07</text>
<text transform="translate(240.73,474.48) rotate(0.05) scale(1.0616,1)" x="0.13 7.39 11.02 18.28" font-size="13.06" fill="#ffffff">0.03</text>
<text transform="translate(282.97,474.52) rotate(0.05) scale(1.0613,1)" x="0.06 7.33 10.95 18.22" font-size="13.06" fill="#ffffff">0.00</text>
<text transform="translate(325.23,474.36) rotate(0.05) scale(1.0480,1)" x="0.18 7.45 11.07 18.34" font-size="13.06" fill="#ffffff">0.01</text>
<text transform="translate(367.45,474.58) rotate(0.05) scale(1.0601,1)" x="0.19 7.46 11.09 18.35" font-size="13.06" fill="#ffffff">0.02</text>
<text transform="translate(409.69,474.53) rotate(0.05) scale(1.0600,1)" x="0.33 7.60 11.23 18.49" font-size="13.06" fill="#ffffff">0.00</text>
<text transform="translate(451.95,474.44) rotate(0.05) scale(1.0549,1)" x="-0.02 7.24 10.87 18.13" font-size="13.06" fill="#ffffff">0.12</text>
<text transform="translate(494.17,474.57) rotate(0.05) scale(1.0715,1)" x="-0.03 7.24 10.86 18.13" font-size="13.06" fill="#ffffff">0.20</text>
<text transform="translate(536.43,474.46) rotate(0.05) scale(1.0610,1)" x="0.12 7.39 11.02 18.28" font-size="13.06" fill="#ffffff">0.21</text>
<text transform="translate(578.65,474.46) rotate(0.05) scale(1.0581,1)" x="-0.10 7.17 10.79 18.06" font-size="13.06" fill="#ffffff">0.03</text>
<text transform="translate(620.89,474.45) rotate(0.05) scale(1.0613,1)" x="0.21 7.48 11.11 18.37" font-size="13.06" fill="#ffffff">0.09</text>
<text transform="translate(663.15,474.42) rotate(0.05) scale(1.0557,1)" x="0.46 7.73 11.35 18.62" font-size="13.06" fill="#ffffff">1.00</text>
<text transform="translate(705.37,474.61) rotate(0.05) scale(1.0661,1)" x="0.39 7.65 11.28 18.54" font-size="13.06" fill="#ffffff">0.04</text>
<text transform="translate(747.61,474.52) rotate(0.05) scale(1.0678,1)" x="0.12 7.39 11.01 18.28" font-size="13.06" fill="#ffffff">0.00</text>
<text transform="translate(789.85,474.48) rotate(0.05) scale(1.0631,1)" x="0.03 7.29 10.92 18.18" font-size="13.06" fill="#ffffff">0.03</text>
<text transform="translate(832.09,474.39) rotate(0.05) scale(1.0676,1)" x="0.32 7.59 11.22 18.48" font-size="13.06" fill="#ffffff">0.09</text>
<text transform="translate(874.35,474.50) rotate(0.05) scale(1.0577,1)" x="0.26 7.52 11.15 18.41" font-size="13.06" fill="#262626">0.21</text>
<text transform="translate(916.59,474.42) rotate(0.05) scale(1.0532,1)" x="0.12 7.39 11.02 18.28" font-size="13.06" fill="#ffffff">0.01</text>
<text transform="translate(958.83,474.40) rotate(0.05) scale(1.0550,1)" x="0.28 7.54 11.17 18.43" font-size="13.06" fill="#ffffff">0.01</text>
<text transform="translate(1001.07,474.43) rotate(0.05) scale(1.0531,1)" x="0.36 7.62 11.25 18.51" font-size="13.06" fill="#ffffff">0.01</text>
<text transform="translate(1043.29,474.39) rotate(0.05) scale(1.0637,1)" x="0.22 7.48 11.11 18.37" font-size="13.06" fill="#ffffff">0.09</text>
<text transform="translate(240.75,516.75) rotate(0.05) scale(1.0656,1)" x="0.01 7.28 10.91 18.17" font-size="13.06" fill="#ffffff">0.13</text>
<text transform="translate(282.97,516.85) rotate(0.05) scale(1.0611,1)" x="-0.10 7.16 10.79 18.05" font-size="13.06" fill="#ffffff">0.03</text>
<text transform="translate(325.21,516.84) rotate(0.05) scale(1.0618,1)" x="0.05 7.31 10.94 18.21" font-size="13.06" fill="#ffffff">0.03</text>
<text transform="translate(367.47,516.86) rotate(0.05) scale(1.0646,1)" x="0.45 7.71 11.34 18.61" font-size="13.06" fill="#ffffff">0.16</text>
<text transform="translate(409.71,516.78) rotate(0.05) scale(1.0619,1)" x="0.20 7.46 11.09 18.36" font-size="13.06" fill="#ffffff">0.10</text>
<text transform="translate(451.95,516.91) rotate(0.05) scale(1.0564,1)" x="-0.03 7.24 10.87 18.13" font-size="13.06" fill="#ffffff">0.05</text>
<text transform="translate(494.17,516.83) rotate(0.05) scale(1.0583,1)" x="0.28 7.54 11.17 18.44" font-size="13.06" fill="#ffffff">0.04</text>
<text transform="translate(536.41,516.88) rotate(0.05) scale(1.0574,1)" x="0.12 7.38 11.01 18.27" font-size="13.06" fill="#ffffff">0.03</text>
<text transform="translate(578.65,516.88) rotate(0.05) scale(1.0631,1)" x="0.15 7.41 11.04 18.30" font-size="13.06" fill="#ffffff">0.00</text>
<text transform="translate(620.89,516.82) rotate(0.05) scale(1.0606,1)" x="0.08 7.34 10.97 18.23" font-size="13.06" fill="#ffffff">0.02</text>
<text transform="translate(663.13,516.83) rotate(0.05) scale(1.0541,1)" x="0.24 7.51 11.13 18.40" font-size="13.06" fill="#ffffff">0.04</text>
<text transform="translate(705.39,516.89) rotate(0.05) scale(1.0528,1)" x="0.26 7.52 11.15 18.41" font-size="13.06" fill="#ffffff">1.00</text>
<text transform="translate(747.61,516.87) rotate(0.05) scale(1.0570,1)" x="-0.10 7.16 10.79 18.05" font-size="13.06" fill="#ffffff">0.03</text>
<text transform="translate(789.85,516.82) rotate(0.05) scale(1.0543,1)" x="0.26 7.53 11.16 18.42" font-size="13.06" fill="#ffffff">0.02</text>
<text transform="translate(832.09,516.83) rotate(0.05) scale(1.0627,1)" x="0.07 7.33 10.96 18.22" font-size="13.06" fill="#ffffff">0.03</text>
<text transform="translate(874.33,516.84) rotate(0.05) scale(1.0612,1)" x="0.06 7.32 10.95 18.21" font-size="13.06" fill="#ffffff">0.04</text>
<text transform="translate(916.57,516.81) rotate(0.05) scale(1.0607,1)" x="0.31 7.57 11.20 18.46" font-size="13.06" fill="#ffffff">0.04</text>
<text transform="translate(958.81,516.85) rotate(0.05) scale(1.0632,1)" x="0.05 7.31 10.94 18.20" font-size="13.06" fill="#ffffff">0.03</text>
<text transform="translate(1001.05,516.79) rotate(0.05) scale(1.0588,1)" x="0.34 7.61 11.23 18.50" font-size="13.06" fill="#ffffff">0.02</text>
<text transform="translate(1043.29,516.84) rotate(0.05) scale(1.0678,1)" x="0.37 7.63 11.26 18.53" font-size="13.06" fill="#ffffff">0.06</text>
<text transform="translate(240.73,558.86) rotate(0.05) scale(1.0588,1)" x="0.21 7.47 11.10 18.36" font-size="13.06" fill="#ffffff">0.02</text>
<text transform="translate(282.97,558.83) rotate(0.05) scale(1.0660,1)" x="-0.06 7.20 10.83 18.09" font-size="13.06" fill="#ffffff">0.09</text>
<text transform="translate(325.23,558.83) rotate(0.05) scale(1.0561,1)" x="0.14 7.40 11.03 18.30" font-size="13.06" fill="#ffffff">0.01</text>
<text transform="translate(367.47,558.83) rotate(0.05) scale(1.0520,1)" x="0.18 7.44 11.07 18.33" font-size="13.06" fill="#ffffff">0.01</text>
<text transform="translate(409.71,558.83) rotate(0.05) scale(1.0651,1)" x="0.17 7.43 11.06 18.33" font-size="13.06" fill="#ffffff">0.01</text>
<text transform="translate(451.93,558.86) rotate(0.05) scale(1.0601,1)" x="0.04 7.31 10.93 18.20" font-size="13.06" fill="#ffffff">0.02</text>
<text transform="translate(494.17,558.83) rotate(0.05) scale(1.0587,1)" x="0.25 7.51 11.14 18.40" font-size="13.06" fill="#ffffff">0.02</text>
<text transform="translate(536.43,558.90) rotate(0.05) scale(1.0696,1)" x="0.21 7.47 11.10 18.37" font-size="13.06" fill="#262626">0.48</text>
<text transform="translate(578.65,558.88) rotate(0.05) scale(1.0638,1)" x="0.13 7.40 11.02 18.29" font-size="13.06" fill="#ffffff">0.00</text>
<text transform="translate(620.89,558.88) rotate(0.05) scale(1.0660,1)" x="0.14 7.40 11.03 18.29" font-size="13.06" fill="#ffffff">0.00</text>
<text transform="translate(663.13,558.93) rotate(0.05) scale(1.0601,1)" x="0.22 7.48 11.11 18.37" font-size="13.06" fill="#ffffff">0.00</text>
<text transform="translate(705.37,558.87) rotate(0.05) scale(1.0600,1)" x="0.14 7.40 11.03 18.29" font-size="13.06" fill="#ffffff">0.03</text>
<text transform="translate(747.63,558.81) rotate(0.05) scale(1.0625,1)" x="0.29 7.55 11.18 18.44" font-size="13.06" fill="#ffffff">1.00</text>
<text transform="translate(789.85,558.84) rotate(0.05) scale(1.0706,1)" x="0.22 7.48 11.11 18.37" font-size="13.06" fill="#ffffff">0.04</text>
<text transform="translate(832.09,558.87) rotate(0.05) scale(1.0521,1)" x="0.29 7.55 11.18 18.44" font-size="13.06" fill="#ffffff">0.00</text>
<text transform="translate(874.33,558.82) rotate(0.05) scale(1.0597,1)" x="0.22 7.48 11.11 18.37" font-size="13.06" fill="#ffffff">0.00</text>
<text transform="translate(916.57,558.86) rotate(0.05) scale(1.0551,1)" x="0.17 7.43 11.06 18.32" font-size="13.06" fill="#ffffff">0.02</text>
<text transform="translate(958.81,558.86) rotate(0.05) scale(1.0528,1)" x="0.18 7.45 11.08 18.34" font-size="13.06" fill="#ffffff">0.02</text>
<text transform="translate(1001.05,558.83) rotate(0.05) scale(1.0529,1)" x="0.40 7.66 11.29 18.55" font-size="13.06" fill="#ffffff">0.02</text>
<text transform="translate(1043.29,558.94) rotate(0.05) scale(1.0600,1)" x="0.21 7.48 11.11 18.37" font-size="13.06" fill="#ffffff">0.00</text>
<text transform="translate(240.75,601.19) rotate(0.05) scale(1.0577,1)" x="0.29 7.55 11.18 18.44" font-size="13.06" fill="#ffffff">0.08</text>
<text transform="translate(282.97,601.20) rotate(0.05) scale(1.0532,1)" x="0.03 7.29 10.92 18.18" font-size="13.06" fill="#ffffff">0.02</text>
<text transform="translate(325.23,601.19) rotate(0.05) scale(1.0607,1)" x="0.14 7.40 11.03 18.29" font-size="13.06" fill="#ffffff">0.01</text>
<text transform="translate(367.47,601.19) rotate(0.05) scale(1.0448,1)" x="0.29 7.55 11.18 18.44" font-size="13.06" fill="#ffffff">0.01</text>
<text transform="translate(409.69,601.13) rotate(0.05) scale(1.0602,1)" x="0.45 7.71 11.34 18.60" font-size="13.06" fill="#ffffff">0.00</text>
<text transform="translate(451.95,601.33) rotate(0.05) scale(1.0514,1)" x="-0.10 7.17 10.79 18.06" font-size="13.06" fill="#ffffff">0.05</text>
<text transform="translate(494.17,601.09) rotate(0.05) scale(1.0679,1)" x="-0.03 7.23 10.86 18.12" font-size="13.06" fill="#ffffff">0.03</text>
<text transform="translate(536.43,601.36) rotate(0.05) scale(1.0609,1)" x="0.07 7.33 10.96 18.23" font-size="13.06" fill="#ffffff">0.05</text>
<text transform="translate(578.67,601.33) rotate(0.05) scale(1.0503,1)" x="0.18 7.44 11.07 18.33" font-size="13.06" fill="#ffffff">0.05</text>
<text transform="translate(620.91,601.17) rotate(0.05) scale(1.0569,1)" x="0.04 7.31 10.94 18.20" font-size="13.06" fill="#ffffff">0.01</text>
<text transform="translate(663.13,601.10) rotate(0.05) scale(1.0526,1)" x="0.12 7.38 11.01 18.27" font-size="13.06" fill="#ffffff">0.03</text>
<text transform="translate(705.37,601.17) rotate(0.05) scale(1.0600,1)" x="0.29 7.55 11.18 18.45" font-size="13.06" fill="#ffffff">0.02</text>
<text transform="translate(747.61,601.19) rotate(0.05) scale(1.0517,1)" x="0.16 7.42 11.05 18.31" font-size="13.06" fill="#ffffff">0.04</text>
<text transform="translate(789.87,601.20) rotate(0.05) scale(1.0585,1)" x="0.39 7.65 11.28 18.55" font-size="13.06" fill="#ffffff">1.00</text>
<text transform="translate(832.09,601.09) rotate(0.05) scale(1.0595,1)" x="0.08 7.34 10.97 18.23" font-size="13.06" fill="#ffffff">0.03</text>
<text transform="translate(874.33,601.21) rotate(0.05) scale(1.0529,1)" x="0.01 7.28 10.90 18.17" font-size="13.06" fill="#ffffff">0.02</text>
<text transform="translate(916.61,601.09) rotate(0.05) scale(1.0985,1)" x="-0.11 6.94 10.36 17.35" font-size="13.06" fill="#ffffff">0.11</text>
<text transform="translate(958.81,601.21) rotate(0.05) scale(1.0551,1)" x="0.23 7.49 11.12 18.38" font-size="13.06" fill="#ffffff">0.02</text>
<text transform="translate(1001.05,601.13) rotate(0.05) scale(1.0603,1)" x="0.39 7.65 11.28 18.54" font-size="13.06" fill="#ffffff">0.00</text>
<text transform="translate(1043.31,601.34) rotate(0.05) scale(1.0652,1)" x="0.11 7.37 11.00 18.26" font-size="13.06" fill="#ffffff">0.07</text>
<text transform="translate(240.75,643.63) rotate(0.05) scale(1.0523,1)" x="0.07 7.34 10.96 18.23" font-size="13.06" fill="#ffffff">0.05</text>
<text transform="translate(282.99,643.47) rotate(0.05) scale(1.0573,1)" x="0.09 7.35 10.98 18.24" font-size="13.06" fill="#ffffff">0.01</text>
<text transform="translate(325.23,643.46) rotate(0.05) scale(1.0476,1)" x="0.18 7.45 11.07 18.34" font-size="13.06" fill="#ffffff">0.01</text>
<text transform="translate(367.45,643.59) rotate(0.05) scale(1.0624,1)" x="0.31 7.57 11.20 18.47" font-size="13.06" fill="#ffffff">0.04</text>
<text transform="translate(409.69,643.57) rotate(0.05) scale(1.0604,1)" x="0.18 7.44 11.07 18.33" font-size="13.06" fill="#ffffff">0.03</text>
<text transform="translate(451.97,643.32) rotate(0.05) scale(1.1068,1)" x="-0.17 6.88 10.30 17.29" font-size="13.06" fill="#ffffff">0.11</text>
<text transform="translate(494.17,643.43) rotate(0.05) scale(1.0556,1)" x="0.27 7.54 11.17 18.43" font-size="13.06" fill="#ffffff">0.09</text>
<text transform="translate(536.41,643.57) rotate(0.05) scale(1.0591,1)" x="0.06 7.32 10.95 18.21" font-size="13.06" fill="#ffffff">0.03</text>
<text transform="translate(578.65,643.60) rotate(0.05) scale(1.0656,1)" x="0.11 7.38 11.01 18.27" font-size="13.06" fill="#ffffff">0.00</text>
<text transform="translate(620.89,643.60) rotate(0.05) scale(1.0547,1)" x="0.21 7.48 11.10 18.37" font-size="13.06" fill="#ffffff">0.04</text>
<text transform="translate(663.13,643.44) rotate(0.05) scale(1.0660,1)" x="0.26 7.52 11.15 18.41" font-size="13.06" fill="#ffffff">0.09</text>
<text transform="translate(705.37,643.56) rotate(0.05) scale(1.0603,1)" x="0.13 7.39 11.02 18.28" font-size="13.06" fill="#ffffff">0.03</text>
<text transform="translate(747.61,643.61) rotate(0.05) scale(1.0676,1)" x="0.13 7.40 11.03 18.29" font-size="13.06" fill="#ffffff">0.00</text>
<text transform="translate(789.85,643.57) rotate(0.05) scale(1.0646,1)" x="0.00 7.27 10.90 18.16" font-size="13.06" fill="#ffffff">0.03</text>
<text transform="translate(832.11,643.48) rotate(0.05) scale(1.0560,1)" x="0.01 7.27 10.90 18.16" font-size="13.06" fill="#ffffff">1.00</text>
<text transform="translate(874.35,643.54) rotate(0.05) scale(1.0627,1)" x="0.30 7.57 11.20 18.46" font-size="13.06" fill="#ffffff">0.07</text>
<text transform="translate(916.57,643.60) rotate(0.05) scale(1.0458,1)" x="0.34 7.61 11.24 18.50" font-size="13.06" fill="#262626">0.62</text>
<text transform="translate(958.81,643.61) rotate(0.05) scale(1.0603,1)" x="0.39 7.66 11.29 18.55" font-size="13.06" fill="#ffffff">0.04</text>
<text transform="translate(1001.05,643.58) rotate(0.05) scale(1.0581,1)" x="0.38 7.64 11.27 18.53" font-size="13.06" fill="#ffffff">0.04</text>
<text transform="translate(1043.31,643.56) rotate(0.05) scale(1.0671,1)" x="0.15 7.41 11.04 18.31" font-size="13.06" fill="#ffffff">0.08</text>
<text transform="translate(240.75,685.61) rotate(0.05) scale(1.0654,1)" x="0.29 7.55 11.18 18.45" font-size="13.06" fill="#ffffff">0.07</text>
<text transform="translate(282.99,685.51) rotate(0.05) scale(1.0571,1)" x="0.09 7.35 10.98 18.24" font-size="13.06" fill="#ffffff">0.01</text>
<text transform="translate(325.23,685.47) rotate(0.05) scale(1.0504,1)" x="0.09 7.35 10.98 18.24" font-size="13.06" fill="#ffffff">0.01</text>
<text transform="translate(367.45,685.57) rotate(0.05) scale(1.0585,1)" x="0.05 7.32 10.94 18.21" font-size="13.06" fill="#ffffff">0.03</text>
<text transform="translate(409.71,685.55) rotate(0.05) scale(1.0516,1)" x="0.08 7.35 10.98 18.24" font-size="13.06" fill="#ffffff">0.05</text>
<text transform="translate(451.95,685.54) rotate(0.05) scale(1.0575,1)" x="0.12 7.38 11.01 18.27" font-size="13.06" fill="#ffffff">0.08</text>
<text transform="translate(494.19,685.48) rotate(0.05) scale(1.0590,1)" x="-0.15 7.11 10.74 18.00" font-size="13.06" fill="#ffffff">0.13</text>
<text transform="translate(536.41,685.53) rotate(0.05) scale(1.0657,1)" x="0.26 7.52 11.15 18.42" font-size="13.06" fill="#ffffff">0.00</text>
<text transform="translate(578.67,685.47) rotate(0.05) scale(1.0665,1)" x="0.11 7.38 11.00 18.27" font-size="13.06" fill="#ffffff">0.13</text>
<text transform="translate(620.91,685.63) rotate(0.05) scale(1.0789,1)" x="-0.36 6.90 10.53 17.79" font-size="13.06" fill="#262626">0.35</text>
<text transform="translate(663.15,685.48) rotate(0.05) scale(1.0625,1)" x="0.14 7.40 11.03 18.29" font-size="13.06" fill="#262626">0.21</text>
<text transform="translate(705.37,685.59) rotate(0.05) scale(1.0660,1)" x="0.39 7.66 11.28 18.55" font-size="13.06" fill="#ffffff">0.04</text>
<text transform="translate(747.61,685.54) rotate(0.05) scale(1.0660,1)" x="0.14 7.40 11.03 18.29" font-size="13.06" fill="#ffffff">0.00</text>
<text transform="translate(789.85,685.56) rotate(0.05) scale(1.0491,1)" x="0.19 7.45 11.08 18.34" font-size="13.06" fill="#ffffff">0.02</text>
<text transform="translate(832.11,685.65) rotate(0.05) scale(1.0592,1)" x="0.35 7.61 11.24 18.50" font-size="13.06" fill="#ffffff">0.07</text>
<text transform="translate(874.35,685.48) rotate(0.05) scale(1.0529,1)" x="0.23 7.49 11.12 18.38" font-size="13.06" fill="#ffffff">1.00</text>
<text transform="translate(916.57,685.56) rotate(0.05) scale(1.0597,1)" x="-0.03 7.24 10.86 18.13" font-size="13.06" fill="#ffffff">0.03</text>
<text transform="translate(958.81,685.54) rotate(0.05) scale(1.0618,1)" x="0.28 7.55 11.17 18.44" font-size="13.06" fill="#ffffff">0.09</text>
<text transform="translate(1001.09,685.51) rotate(0.05) scale(1.0655,1)" x="0.30 7.56 11.19 18.45" font-size="13.06" fill="#ffffff">0.17</text>
<text transform="translate(1043.31,685.49) rotate(0.05) scale(1.0592,1)" x="-0.25 7.01 10.64 17.91" font-size="13.06" fill="#ffffff">0.13</text>
<text transform="translate(240.73,727.86) rotate(0.05) scale(1.0574,1)" x="0.26 7.52 11.15 18.42" font-size="13.06" fill="#ffffff">0.00</text>
<text transform="translate(282.97,727.92) rotate(0.05) scale(1.0704,1)" x="0.15 7.42 11.05 18.31" font-size="13.06" fill="#ffffff">0.06</text>
<text transform="translate(325.21,727.91) rotate(0.05) scale(1.0590,1)" x="0.23 7.49 11.12 18.38" font-size="13.06" fill="#ffffff">0.04</text>
<text transform="translate(367.45,727.94) rotate(0.05) scale(1.0656,1)" x="0.29 7.55 11.18 18.44" font-size="13.06" fill="#ffffff">0.04</text>
<text transform="translate(409.69,727.82) rotate(0.05) scale(1.0562,1)" x="0.26 7.52 11.15 18.42" font-size="13.06" fill="#ffffff">0.03</text>
<text transform="translate(451.95,727.93) rotate(0.05) scale(1.0613,1)" x="0.06 7.32 10.95 18.21" font-size="13.06" fill="#ffffff">0.07</text>
<text transform="translate(494.21,727.88) rotate(0.05) scale(1.0729,1)" x="0.20 7.46 11.09 18.35" font-size="13.06" fill="#ffffff">0.17</text>
<text transform="translate(536.43,727.78) rotate(0.05) scale(1.0514,1)" x="0.29 7.56 11.19 18.45" font-size="13.06" fill="#ffffff">0.01</text>
<text transform="translate(578.65,727.94) rotate(0.05) scale(1.0541,1)" x="0.05 7.32 10.95 18.21" font-size="13.06" fill="#ffffff">0.02</text>
<text transform="translate(620.89,727.94) rotate(0.05) scale(1.0503,1)" x="0.16 7.43 11.05 18.32" font-size="13.06" fill="#ffffff">0.02</text>
<text transform="translate(663.15,727.88) rotate(0.05) scale(1.0607,1)" x="0.27 7.53 11.16 18.42" font-size="13.06" fill="#ffffff">0.01</text>
<text transform="translate(705.37,727.95) rotate(0.05) scale(1.0520,1)" x="0.32 7.59 11.21 18.48" font-size="13.06" fill="#ffffff">0.04</text>
<text transform="translate(747.61,727.94) rotate(0.05) scale(1.0607,1)" x="0.08 7.34 10.97 18.23" font-size="13.06" fill="#ffffff">0.02</text>
<text transform="translate(789.89,727.86) rotate(0.05) scale(1.1088,1)" x="-0.11 6.95 10.37 17.35" font-size="13.06" fill="#ffffff">0.11</text>
<text transform="translate(832.09,727.86) rotate(0.05) scale(1.0415,1)" x="0.43 7.69 11.32 18.58" font-size="13.06" fill="#262626">0.62</text>
<text transform="translate(874.33,727.80) rotate(0.05) scale(1.0639,1)" x="-0.22 7.04 10.67 17.93" font-size="13.06" fill="#ffffff">0.03</text>
<text transform="translate(916.59,727.90) rotate(0.05) scale(1.0516,1)" x="0.34 7.60 11.23 18.49" font-size="13.06" fill="#ffffff">1.00</text>
<text transform="translate(958.83,727.81) rotate(0.05) scale(1.0548,1)" x="0.21 7.47 11.10 18.37" font-size="13.06" fill="#ffffff">0.01</text>
<text transform="translate(1001.07,727.87) rotate(0.05) scale(1.0599,1)" x="0.28 7.54 11.17 18.44" font-size="13.06" fill="#ffffff">0.01</text>
<text transform="translate(1043.29,727.93) rotate(0.05) scale(1.0660,1)" x="0.36 7.62 11.25 18.51" font-size="13.06" fill="#ffffff">0.06</text>
<text transform="translate(240.75,770.29) rotate(0.05) scale(1.0500,1)" x="0.09 7.36 10.98 18.25" font-size="13.06" fill="#ffffff">0.05</text>
<text transform="translate(282.97,770.13) rotate(0.05) scale(1.0648,1)" x="0.12 7.39 11.02 18.28" font-size="13.06" fill="#ffffff">0.04</text>
<text transform="translate(325.23,770.11) rotate(0.05) scale(1.0538,1)" x="0.15 7.42 11.05 18.31" font-size="13.06" fill="#ffffff">0.01</text>
<text transform="translate(367.47,770.10) rotate(0.05) scale(1.0512,1)" x="0.27 7.54 11.16 18.43" font-size="13.06" fill="#ffffff">0.01</text>
<text transform="translate(409.69,770.12) rotate(0.05) scale(1.0526,1)" x="0.32 7.59 11.22 18.48" font-size="13.06" fill="#ffffff">0.02</text>
<text transform="translate(451.95,770.10) rotate(0.05) scale(1.0578,1)" x="0.03 7.30 10.93 18.19" font-size="13.06" fill="#ffffff">0.01</text>
<text transform="translate(494.17,770.13) rotate(0.05) scale(1.0583,1)" x="0.06 7.32 10.95 18.21" font-size="13.06" fill="#ffffff">0.03</text>
<text transform="translate(536.43,770.11) rotate(0.05) scale(1.0509,1)" x="0.31 7.57 11.20 18.46" font-size="13.06" fill="#ffffff">0.01</text>
<text transform="translate(578.67,770.22) rotate(0.05) scale(1.0638,1)" x="0.29 7.56 11.19 18.45" font-size="13.06" fill="#ffffff">0.21</text>
<text transform="translate(620.89,770.21) rotate(0.05) scale(1.0765,1)" x="-0.19 7.08 10.70 17.97" font-size="13.06" fill="#262626">0.33</text>
<text transform="translate(663.15,770.11) rotate(0.05) scale(1.0561,1)" x="0.19 7.45 11.08 18.34" font-size="13.06" fill="#ffffff">0.01</text>
<text transform="translate(705.37,770.16) rotate(0.05) scale(1.0579,1)" x="0.11 7.37 11.00 18.26" font-size="13.06" fill="#ffffff">0.03</text>
<text transform="translate(747.61,770.10) rotate(0.05) scale(1.0537,1)" x="0.02 7.28 10.91 18.17" font-size="13.06" fill="#ffffff">0.02</text>
<text transform="translate(789.85,770.13) rotate(0.05) scale(1.0534,1)" x="0.18 7.44 11.07 18.34" font-size="13.06" fill="#ffffff">0.02</text>
<text transform="translate(832.09,770.13) rotate(0.05) scale(1.0551,1)" x="0.27 7.54 11.16 18.43" font-size="13.06" fill="#ffffff">0.04</text>
<text transform="translate(874.33,770.10) rotate(0.05) scale(1.0626,1)" x="0.12 7.38 11.01 18.27" font-size="13.06" fill="#ffffff">0.09</text>
<text transform="translate(916.59,770.23) rotate(0.05) scale(1.0521,1)" x="0.21 7.47 11.10 18.36" font-size="13.06" fill="#ffffff">0.01</text>
<text transform="translate(958.83,770.18) rotate(0.05) scale(1.0630,1)" x="0.22 7.49 11.11 18.38" font-size="13.06" fill="#ffffff">1.00</text>
<text transform="translate(1001.07,770.17) rotate(0.05) scale(1.0481,1)" x="0.32 7.58 11.21 18.47" font-size="13.06" fill="#ffffff">0.01</text>
<text transform="translate(1043.29,770.12) rotate(0.05) scale(1.0522,1)" x="-0.02 7.25 10.88 18.14" font-size="13.06" fill="#ffffff">0.02</text>
<text transform="translate(240.73,812.19) rotate(0.05) scale(1.0504,1)" x="0.27 7.54 11.17 18.43" font-size="13.06" fill="#ffffff">0.02</text>
<text transform="translate(282.97,812.12) rotate(0.05) scale(1.0631,1)" x="0.01 7.28 10.90 18.17" font-size="13.06" fill="#ffffff">0.00</text>
<text transform="translate(325.21,812.18) rotate(0.05) scale(1.0527,1)" x="0.18 7.45 11.07 18.34" font-size="13.06" fill="#ffffff">0.02</text>
<text transform="translate(367.45,812.15) rotate(0.05) scale(1.0530,1)" x="0.20 7.47 11.10 18.36" font-size="13.06" fill="#ffffff">0.02</text>
<text transform="translate(409.69,812.18) rotate(0.05) scale(1.0565,1)" x="0.18 7.44 11.07 18.33" font-size="13.06" fill="#ffffff">0.03</text>
<text transform="translate(451.93,812.19) rotate(0.05) scale(1.0570,1)" x="0.16 7.43 11.05 18.32" font-size="13.06" fill="#ffffff">0.04</text>
<text transform="translate(494.17,812.18) rotate(0.05) scale(1.0590,1)" x="0.18 7.44 11.07 18.33" font-size="13.06" fill="#ffffff">0.02</text>
<text transform="translate(536.41,812.10) rotate(0.05) scale(1.0644,1)" x="0.26 7.53 11.15 18.42" font-size="13.06" fill="#ffffff">0.00</text>
<text transform="translate(578.65,812.15) rotate(0.05) scale(1.0605,1)" x="0.01 7.27 10.90 18.16" font-size="13.06" fill="#ffffff">0.02</text>
<text transform="translate(620.89,812.18) rotate(0.05) scale(1.0770,1)" x="-0.03 7.23 10.86 18.12" font-size="13.06" fill="#262626">0.34</text>
<text transform="translate(663.15,812.10) rotate(0.05) scale(1.0553,1)" x="0.21 7.47 11.10 18.36" font-size="13.06" fill="#ffffff">0.01</text>
<text transform="translate(705.37,812.16) rotate(0.05) scale(1.0561,1)" x="0.26 7.53 11.15 18.42" font-size="13.06" fill="#ffffff">0.02</text>
<text transform="translate(747.61,812.15) rotate(0.05) scale(1.0613,1)" x="0.07 7.34 10.96 18.23" font-size="13.06" fill="#ffffff">0.02</text>
<text transform="translate(789.85,812.12) rotate(0.05) scale(1.0636,1)" x="0.33 7.60 11.22 18.49" font-size="13.06" fill="#ffffff">0.00</text>
<text transform="translate(832.09,812.19) rotate(0.05) scale(1.0564,1)" x="0.24 7.50 11.13 18.39" font-size="13.06" fill="#ffffff">0.04</text>
<text transform="translate(874.37,812.21) rotate(0.05) scale(1.0663,1)" x="0.21 7.47 11.10 18.37" font-size="13.06" fill="#ffffff">0.17</text>
<text transform="translate(916.59,812.10) rotate(0.05) scale(1.0519,1)" x="0.08 7.34 10.97 18.23" font-size="13.06" fill="#ffffff">0.01</text>
<text transform="translate(958.83,812.11) rotate(0.05) scale(1.0504,1)" x="0.24 7.50 11.13 18.40" font-size="13.06" fill="#ffffff">0.01</text>
<text transform="translate(1001.07,812.11) rotate(0.05) scale(1.0630,1)" x="0.07 7.33 10.96 18.22" font-size="13.06" fill="#ffffff">1.00</text>
<text transform="translate(1043.29,812.19) rotate(0.05) scale(1.0541,1)" x="0.21 7.48 11.11 18.37" font-size="13.06" fill="#ffffff">0.04</text>
<text transform="translate(240.75,854.64) rotate(0.05) scale(1.0541,1)" x="0.05 7.31 10.94 18.20" font-size="13.06" fill="#ffffff">0.05</text>
<text transform="translate(282.97,854.53) rotate(0.05) scale(1.0493,1)" x="0.12 7.38 11.01 18.27" font-size="13.06" fill="#ffffff">0.02</text>
<text transform="translate(325.21,854.57) rotate(0.05) scale(1.0600,1)" x="0.21 7.47 11.10 18.36" font-size="13.06" fill="#ffffff">0.00</text>
<text transform="translate(367.45,854.55) rotate(0.05) scale(1.0581,1)" x="0.20 7.46 11.09 18.35" font-size="13.06" fill="#ffffff">0.02</text>
<text transform="translate(409.71,854.45) rotate(0.05) scale(1.0515,1)" x="0.40 7.66 11.29 18.55" font-size="13.06" fill="#ffffff">0.01</text>
<text transform="translate(451.95,854.57) rotate(0.05) scale(1.0617,1)" x="0.10 7.36 10.99 18.25" font-size="13.06" fill="#ffffff">0.14</text>
<text transform="translate(494.17,854.55) rotate(0.05) scale(1.0637,1)" x="0.34 7.60 11.23 18.49" font-size="13.06" fill="#ffffff">0.06</text>
<text transform="translate(536.41,854.51) rotate(0.05) scale(1.0627,1)" x="0.35 7.61 11.24 18.50" font-size="13.06" fill="#ffffff">0.04</text>
<text transform="translate(578.67,854.46) rotate(0.05) scale(1.0517,1)" x="0.38 7.64 11.27 18.53" font-size="13.06" fill="#ffffff">0.01</text>
<text transform="translate(620.91,854.54) rotate(0.05) scale(1.0667,1)" x="0.12 7.38 11.01 18.27" font-size="13.06" fill="#ffffff">0.07</text>
<text transform="translate(663.13,854.40) rotate(0.05) scale(1.0663,1)" x="0.26 7.52 11.15 18.41" font-size="13.06" fill="#ffffff">0.09</text>
<text transform="translate(705.37,854.57) rotate(0.05) scale(1.0726,1)" x="0.52 7.78 11.41 18.67" font-size="13.06" fill="#ffffff">0.06</text>
<text transform="translate(747.61,854.57) rotate(0.05) scale(1.0664,1)" x="0.13 7.39 11.02 18.28" font-size="13.06" fill="#ffffff">0.00</text>
<text transform="translate(789.87,854.54) rotate(0.05) scale(1.0681,1)" x="0.21 7.48 11.10 18.37" font-size="13.06" fill="#ffffff">0.07</text>
<text transform="translate(832.11,854.59) rotate(0.05) scale(1.0576,1)" x="0.39 7.65 11.28 18.55" font-size="13.06" fill="#ffffff">0.08</text>
<text transform="translate(874.35,854.42) rotate(0.05) scale(1.0619,1)" x="0.02 7.28 10.91 18.17" font-size="13.06" fill="#ffffff">0.13</text>
<text transform="translate(916.57,854.58) rotate(0.05) scale(1.0710,1)" x="0.37 7.63 11.26 18.52" font-size="13.06" fill="#ffffff">0.06</text>
<text transform="translate(958.81,854.54) rotate(0.05) scale(1.0564,1)" x="0.25 7.51 11.14 18.40" font-size="13.06" fill="#ffffff">0.02</text>
<text transform="translate(1001.05,854.53) rotate(0.05) scale(1.0646,1)" x="0.29 7.56 11.18 18.45" font-size="13.06" fill="#ffffff">0.04</text>
<text transform="translate(1043.31,854.46) rotate(0.05) scale(1.0639,1)" x="0.18 7.45 11.07 18.34" font-size="13.06" fill="#ffffff">1.00</text>
<text transform="translate(27.30,1014.32) rotate(0.05) scale(1.0556,1)" x="0.53 11.37 20.58 26.29 31.61 40.78 44.54 54.06 59.37 63.14 72.17 81.30 85.35 92.71 101.15 110.21 118.90 126.90" font-size="16.09">Correlation Types:</text>
<circle cx="31.84" cy="1025.73" r="2.23" fill="#000"/>
<text transform="translate(27.30,1031.41) rotate(0.05) scale(1.0855,1)" x="12.02 22.65 32.02 36.93 45.80 54.64 63.70 69.47 73.11 80.89 89.91 93.54 97.92 108.56 117.93 122.83 131.70 140.55 149.60 155.38 159.01 166.80 175.81 179.72 184.37 188.00 199.01 204.46 213.50 227.00 236.08 242.09 245.24 252.98 256.96" font-size="16.09">Categorical-Categorical: Cramér&#39;s V</text>
<circle cx="31.84" cy="1042.84" r="2.23" fill="#000"/>
<text transform="translate(27.30,1048.52) rotate(0.05) scale(1.0862,1)" x="12.36 23.50 32.66 46.16 55.24 61.01 64.64 72.42 81.43 85.07 89.80 100.93 110.10 123.59 132.67 138.45 142.08 149.86 158.87 162.78 167.42 170.82 179.84 188.54 197.61 202.86 210.44 219.28 228.26 232.62 240.41 249.46 255.04 260.20 269.22 272.84 282.21 287.41 291.03 299.86" font-size="16.09">Numerical-Numerical: Pearson correlation</text>
<circle cx="31.84" cy="1059.95" r="2.23" fill="#000"/>
<text transform="translate(27.30,1065.63) rotate(0.05) scale(1.1042,1)" x="11.97 24.84 28.67 36.21 44.93 53.94 58.50 62.02 72.49 81.42 86.91 91.96 100.88 104.39 113.64 118.77 122.28 130.97 139.84 144.49 149.82 159.07 164.20 167.71 176.43 180.92 186.27 195.20" font-size="16.09">Mixed: Correlation ratio (η)</text>
</svg></body></html>
